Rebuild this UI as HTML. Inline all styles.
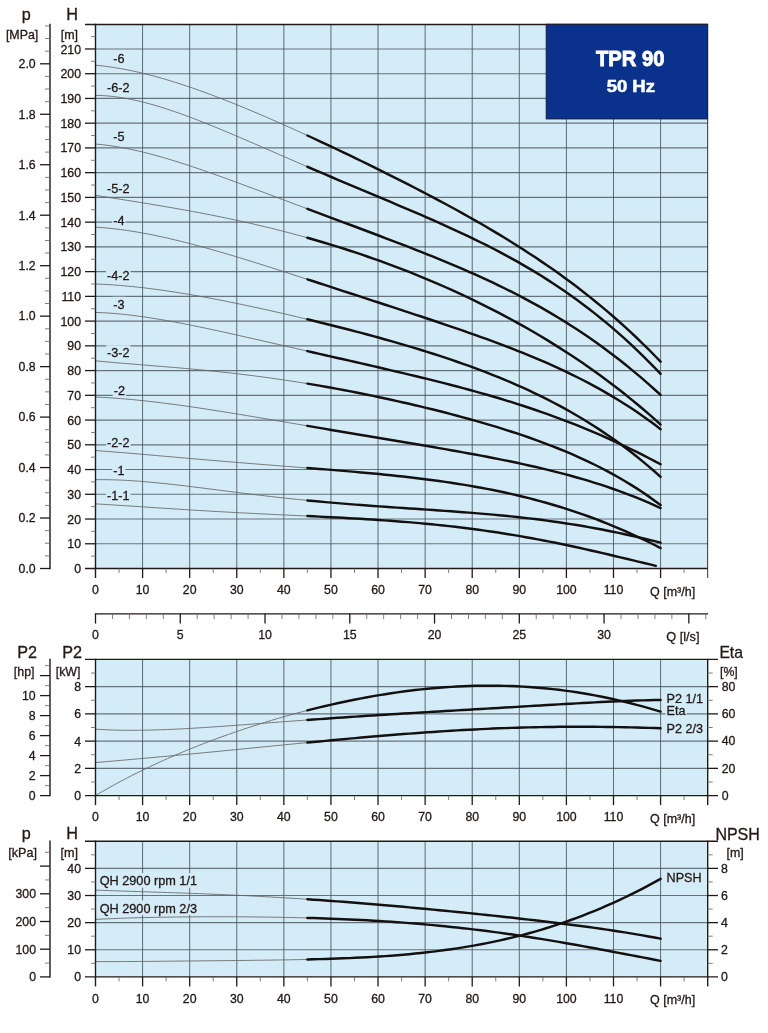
<!DOCTYPE html>
<html><head><meta charset="utf-8"><title>TPR 90 50 Hz</title>
<style>
html,body{margin:0;padding:0;background:#fff;}
body{width:768px;height:1033px;overflow:hidden;}
svg{display:block;font-family:"Liberation Sans", Arial, Helvetica, sans-serif;}
text{stroke:#231815;stroke-width:0.3px;}
text.w{stroke:#fff;}
</style></head>
<body>
<svg width="768" height="1033" viewBox="0 0 768 1033">
<rect width="768" height="1033" fill="#fff"/>
<rect x="95.5" y="24.5" width="612.17" height="544" fill="#d4ecf8"/>
<line x1="95.5" y1="543.76" x2="707.67" y2="543.76" stroke="#66737d" stroke-width="1.15"/>
<line x1="95.5" y1="519.02" x2="707.67" y2="519.02" stroke="#66737d" stroke-width="1.15"/>
<line x1="95.5" y1="494.28" x2="707.67" y2="494.28" stroke="#66737d" stroke-width="1.15"/>
<line x1="95.5" y1="469.54" x2="707.67" y2="469.54" stroke="#66737d" stroke-width="1.15"/>
<line x1="95.5" y1="444.8" x2="707.67" y2="444.8" stroke="#66737d" stroke-width="1.15"/>
<line x1="95.5" y1="420.06" x2="707.67" y2="420.06" stroke="#66737d" stroke-width="1.15"/>
<line x1="95.5" y1="395.32" x2="707.67" y2="395.32" stroke="#66737d" stroke-width="1.15"/>
<line x1="95.5" y1="370.58" x2="707.67" y2="370.58" stroke="#66737d" stroke-width="1.15"/>
<line x1="95.5" y1="345.84" x2="707.67" y2="345.84" stroke="#66737d" stroke-width="1.15"/>
<line x1="95.5" y1="321.1" x2="707.67" y2="321.1" stroke="#66737d" stroke-width="1.15"/>
<line x1="95.5" y1="296.36" x2="707.67" y2="296.36" stroke="#66737d" stroke-width="1.15"/>
<line x1="95.5" y1="271.62" x2="707.67" y2="271.62" stroke="#66737d" stroke-width="1.15"/>
<line x1="95.5" y1="246.88" x2="707.67" y2="246.88" stroke="#66737d" stroke-width="1.15"/>
<line x1="95.5" y1="222.14" x2="707.67" y2="222.14" stroke="#66737d" stroke-width="1.15"/>
<line x1="95.5" y1="197.4" x2="707.67" y2="197.4" stroke="#66737d" stroke-width="1.15"/>
<line x1="95.5" y1="172.66" x2="707.67" y2="172.66" stroke="#66737d" stroke-width="1.15"/>
<line x1="95.5" y1="147.92" x2="707.67" y2="147.92" stroke="#66737d" stroke-width="1.15"/>
<line x1="95.5" y1="123.18" x2="707.67" y2="123.18" stroke="#66737d" stroke-width="1.15"/>
<line x1="95.5" y1="98.44" x2="707.67" y2="98.44" stroke="#66737d" stroke-width="1.15"/>
<line x1="95.5" y1="73.7" x2="707.67" y2="73.7" stroke="#66737d" stroke-width="1.15"/>
<line x1="95.5" y1="48.96" x2="707.67" y2="48.96" stroke="#66737d" stroke-width="1.15"/>
<line x1="142.59" y1="24.5" x2="142.59" y2="568.5" stroke="#4a535a" stroke-width="0.85"/>
<line x1="189.68" y1="24.5" x2="189.68" y2="568.5" stroke="#4a535a" stroke-width="0.85"/>
<line x1="236.77" y1="24.5" x2="236.77" y2="568.5" stroke="#4a535a" stroke-width="0.85"/>
<line x1="283.86" y1="24.5" x2="283.86" y2="568.5" stroke="#4a535a" stroke-width="0.85"/>
<line x1="330.95" y1="24.5" x2="330.95" y2="568.5" stroke="#4a535a" stroke-width="0.85"/>
<line x1="378.04" y1="24.5" x2="378.04" y2="568.5" stroke="#4a535a" stroke-width="0.85"/>
<line x1="425.13" y1="24.5" x2="425.13" y2="568.5" stroke="#4a535a" stroke-width="0.85"/>
<line x1="472.22" y1="24.5" x2="472.22" y2="568.5" stroke="#4a535a" stroke-width="0.85"/>
<line x1="519.31" y1="24.5" x2="519.31" y2="568.5" stroke="#4a535a" stroke-width="0.85"/>
<line x1="566.4" y1="24.5" x2="566.4" y2="568.5" stroke="#4a535a" stroke-width="0.85"/>
<line x1="613.49" y1="24.5" x2="613.49" y2="568.5" stroke="#4a535a" stroke-width="0.85"/>
<line x1="660.58" y1="24.5" x2="660.58" y2="568.5" stroke="#4a535a" stroke-width="0.85"/>
<polyline points="95.5,65.2 99.09,65.55 102.68,65.95 106.27,66.4 109.87,66.89 113.46,67.42 117.05,68 120.64,68.61 124.23,69.27 127.82,69.97 131.42,70.7 135.01,71.47 138.6,72.28 142.19,73.12 145.78,74 149.37,74.9 152.97,75.84 156.56,76.81 160.15,77.81 163.74,78.84 167.33,79.9 170.92,80.98 174.52,82.1 178.11,83.23 181.7,84.39 185.29,85.58 188.88,86.78 192.47,88.01 196.07,89.26 199.66,90.54 203.25,91.83 206.84,93.14 210.43,94.47 214.02,95.82 217.61,97.18 221.21,98.57 224.8,99.97 228.39,101.38 231.98,102.81 235.57,104.25 239.16,105.71 242.76,107.18 246.35,108.67 249.94,110.16 253.53,111.67 257.12,113.19 260.71,114.73 264.31,116.27 267.9,117.82 271.49,119.39 275.08,120.96 278.67,122.54 282.26,124.13 285.86,125.73 289.45,127.34 293.04,128.96 296.63,130.58 300.22,132.22 303.81,133.86 307.4,135.5" fill="none" stroke="#646464" stroke-width="0.85"/>
<polyline points="307.4,135.5 313.39,138.26 319.38,141.04 325.36,143.84 331.35,146.66 337.34,149.49 343.32,152.35 349.31,155.21 355.29,158.1 361.28,161 367.27,163.92 373.25,166.86 379.24,169.81 385.22,172.79 391.21,175.78 397.2,178.8 403.18,181.83 409.17,184.89 415.15,187.97 421.14,191.07 427.13,194.21 433.11,197.36 439.1,200.55 445.08,203.77 451.07,207.02 457.06,210.3 463.04,213.62 469.03,216.97 475.01,220.37 481,223.81 486.99,227.3 492.97,230.83 498.96,234.41 504.94,238.04 510.93,241.73 516.92,245.48 522.9,249.29 528.89,253.16 534.87,257.1 540.86,261.11 546.85,265.19 552.83,269.35 558.82,273.59 564.8,277.91 570.79,282.32 576.78,286.83 582.76,291.42 588.75,296.12 594.73,300.92 600.72,305.83 606.71,310.84 612.69,315.97 618.68,321.23 624.66,326.6 630.65,332.1 636.64,337.74 642.62,343.51 648.61,349.43 654.59,355.49 660.58,361.7" fill="none" stroke="#141010" stroke-width="2.45" stroke-linecap="round" stroke-linejoin="round"/>
<polyline points="95.5,95.34 99.09,95.42 102.68,95.59 106.27,95.83 109.87,96.15 113.46,96.53 117.05,96.99 120.64,97.51 124.23,98.1 127.82,98.75 131.42,99.45 135.01,100.21 138.6,101.03 142.19,101.89 145.78,102.8 149.37,103.76 152.97,104.76 156.56,105.81 160.15,106.89 163.74,108.01 167.33,109.17 170.92,110.36 174.52,111.58 178.11,112.83 181.7,114.11 185.29,115.41 188.88,116.74 192.47,118.1 196.07,119.47 199.66,120.87 203.25,122.28 206.84,123.71 210.43,125.16 214.02,126.62 217.61,128.1 221.21,129.59 224.8,131.09 228.39,132.6 231.98,134.11 235.57,135.64 239.16,137.18 242.76,138.72 246.35,140.26 249.94,141.81 253.53,143.36 257.12,144.92 260.71,146.48 264.31,148.04 267.9,149.61 271.49,151.17 275.08,152.73 278.67,154.3 282.26,155.86 285.86,157.42 289.45,158.98 293.04,160.54 296.63,162.09 300.22,163.65 303.81,165.2 307.4,166.75" fill="none" stroke="#646464" stroke-width="0.85"/>
<polyline points="307.4,166.75 313.39,169.32 319.38,171.89 325.36,174.45 331.35,177 337.34,179.54 343.32,182.08 349.31,184.6 355.29,187.13 361.28,189.65 367.27,192.16 373.25,194.67 379.24,197.19 385.22,199.71 391.21,202.23 397.2,204.76 403.18,207.29 409.17,209.84 415.15,212.41 421.14,214.99 427.13,217.59 433.11,220.22 439.1,222.87 445.08,225.55 451.07,228.27 457.06,231.02 463.04,233.81 469.03,236.65 475.01,239.54 481,242.48 486.99,245.47 492.97,248.53 498.96,251.65 504.94,254.83 510.93,258.09 516.92,261.42 522.9,264.83 528.89,268.33 534.87,271.91 540.86,275.58 546.85,279.35 552.83,283.22 558.82,287.19 564.8,291.27 570.79,295.46 576.78,299.76 582.76,304.18 588.75,308.73 594.73,313.39 600.72,318.19 606.71,323.11 612.69,328.17 618.68,333.37 624.66,338.71 630.65,344.19 636.64,349.82 642.62,355.59 648.61,361.52 654.59,367.6 660.58,373.83" fill="none" stroke="#141010" stroke-width="2.45" stroke-linecap="round" stroke-linejoin="round"/>
<polyline points="95.5,144.07 99.09,144.38 102.68,144.75 106.27,145.17 109.87,145.65 113.46,146.17 117.05,146.74 120.64,147.36 124.23,148.02 127.82,148.73 131.42,149.47 135.01,150.25 138.6,151.07 142.19,151.92 145.78,152.81 149.37,153.73 152.97,154.68 156.56,155.66 160.15,156.66 163.74,157.69 167.33,158.75 170.92,159.83 174.52,160.93 178.11,162.05 181.7,163.2 185.29,164.36 188.88,165.53 192.47,166.73 196.07,167.93 199.66,169.16 203.25,170.39 206.84,171.64 210.43,172.9 214.02,174.17 217.61,175.45 221.21,176.74 224.8,178.04 228.39,179.34 231.98,180.65 235.57,181.97 239.16,183.29 242.76,184.62 246.35,185.95 249.94,187.28 253.53,188.62 257.12,189.96 260.71,191.3 264.31,192.65 267.9,194 271.49,195.34 275.08,196.69 278.67,198.04 282.26,199.39 285.86,200.74 289.45,202.09 293.04,203.44 296.63,204.79 300.22,206.14 303.81,207.49 307.4,208.84" fill="none" stroke="#646464" stroke-width="0.85"/>
<polyline points="307.4,208.84 313.39,211.08 319.38,213.33 325.36,215.57 331.35,217.81 337.34,220.05 343.32,222.29 349.31,224.52 355.29,226.76 361.28,229.01 367.27,231.25 373.25,233.5 379.24,235.76 385.22,238.03 391.21,240.3 397.2,242.59 403.18,244.89 409.17,247.21 415.15,249.54 421.14,251.9 427.13,254.28 433.11,256.68 439.1,259.11 445.08,261.58 451.07,264.07 457.06,266.6 463.04,269.17 469.03,271.78 475.01,274.44 481,277.14 486.99,279.89 492.97,282.7 498.96,285.56 504.94,288.49 510.93,291.47 516.92,294.52 522.9,297.64 528.89,300.83 534.87,304.09 540.86,307.44 546.85,310.86 552.83,314.37 558.82,317.96 564.8,321.64 570.79,325.42 576.78,329.29 582.76,333.26 588.75,337.33 594.73,341.51 600.72,345.79 606.71,350.18 612.69,354.68 618.68,359.29 624.66,364.02 630.65,368.87 636.64,373.84 642.62,378.93 648.61,384.14 654.59,389.48 660.58,394.95" fill="none" stroke="#141010" stroke-width="2.45" stroke-linecap="round" stroke-linejoin="round"/>
<polyline points="95.5,195.3 99.09,195.87 102.68,196.45 106.27,197.02 109.87,197.59 113.46,198.17 117.05,198.74 120.64,199.31 124.23,199.88 127.82,200.46 131.42,201.03 135.01,201.61 138.6,202.19 142.19,202.78 145.78,203.36 149.37,203.95 152.97,204.55 156.56,205.15 160.15,205.75 163.74,206.36 167.33,206.97 170.92,207.59 174.52,208.22 178.11,208.85 181.7,209.49 185.29,210.14 188.88,210.79 192.47,211.45 196.07,212.12 199.66,212.79 203.25,213.48 206.84,214.17 210.43,214.87 214.02,215.58 217.61,216.3 221.21,217.03 224.8,217.77 228.39,218.52 231.98,219.28 235.57,220.05 239.16,220.82 242.76,221.61 246.35,222.41 249.94,223.22 253.53,224.05 257.12,224.88 260.71,225.72 264.31,226.58 267.9,227.44 271.49,228.32 275.08,229.21 278.67,230.12 282.26,231.03 285.86,231.96 289.45,232.9 293.04,233.85 296.63,234.81 300.22,235.79 303.81,236.78 307.4,237.78" fill="none" stroke="#646464" stroke-width="0.85"/>
<polyline points="307.4,237.78 313.39,239.48 319.38,241.22 325.36,242.99 331.35,244.8 337.34,246.65 343.32,248.54 349.31,250.46 355.29,252.43 361.28,254.44 367.27,256.48 373.25,258.57 379.24,260.7 385.22,262.87 391.21,265.08 397.2,267.34 403.18,269.64 409.17,271.98 415.15,274.37 421.14,276.8 427.13,279.28 433.11,281.81 439.1,284.38 445.08,287 451.07,289.67 457.06,292.39 463.04,295.17 469.03,297.99 475.01,300.87 481,303.79 486.99,306.78 492.97,309.82 498.96,312.92 504.94,316.07 510.93,319.29 516.92,322.56 522.9,325.9 528.89,329.31 534.87,332.78 540.86,336.31 546.85,339.92 552.83,343.59 558.82,347.34 564.8,351.17 570.79,355.07 576.78,359.05 582.76,363.11 588.75,367.26 594.73,371.49 600.72,375.81 606.71,380.23 612.69,384.73 618.68,389.34 624.66,394.04 630.65,398.85 636.64,403.76 642.62,408.79 648.61,413.93 654.59,419.18 660.58,424.55" fill="none" stroke="#141010" stroke-width="2.45" stroke-linecap="round" stroke-linejoin="round"/>
<polyline points="95.5,227.15 99.09,227.38 102.68,227.65 106.27,227.96 109.87,228.31 113.46,228.69 117.05,229.11 120.64,229.56 124.23,230.05 127.82,230.57 131.42,231.12 135.01,231.7 138.6,232.3 142.19,232.94 145.78,233.6 149.37,234.29 152.97,235.01 156.56,235.74 160.15,236.51 163.74,237.29 167.33,238.1 170.92,238.93 174.52,239.77 178.11,240.64 181.7,241.53 185.29,242.43 188.88,243.35 192.47,244.29 196.07,245.24 199.66,246.2 203.25,247.19 206.84,248.18 210.43,249.19 214.02,250.21 217.61,251.24 221.21,252.28 224.8,253.33 228.39,254.4 231.98,255.47 235.57,256.55 239.16,257.64 242.76,258.73 246.35,259.84 249.94,260.95 253.53,262.07 257.12,263.19 260.71,264.32 264.31,265.45 267.9,266.59 271.49,267.73 275.08,268.88 278.67,270.03 282.26,271.18 285.86,272.34 289.45,273.5 293.04,274.66 296.63,275.82 300.22,276.98 303.81,278.15 307.4,279.32" fill="none" stroke="#646464" stroke-width="0.85"/>
<polyline points="307.4,279.32 313.39,281.27 319.38,283.22 325.36,285.17 331.35,287.13 337.34,289.08 343.32,291.04 349.31,292.99 355.29,294.95 361.28,296.9 367.27,298.86 373.25,300.81 379.24,302.77 385.22,304.72 391.21,306.68 397.2,308.64 403.18,310.61 409.17,312.58 415.15,314.55 421.14,316.53 427.13,318.52 433.11,320.52 439.1,322.52 445.08,324.55 451.07,326.58 457.06,328.63 463.04,330.7 469.03,332.79 475.01,334.9 481,337.04 486.99,339.2 492.97,341.4 498.96,343.63 504.94,345.89 510.93,348.19 516.92,350.53 522.9,352.92 528.89,355.35 534.87,357.84 540.86,360.38 546.85,362.98 552.83,365.65 558.82,368.37 564.8,371.17 570.79,374.05 576.78,377 582.76,380.03 588.75,383.15 594.73,386.36 600.72,389.67 606.71,393.08 612.69,396.6 618.68,400.23 624.66,403.97 630.65,407.83 636.64,411.82 642.62,415.95 648.61,420.21 654.59,424.61 660.58,429.16" fill="none" stroke="#141010" stroke-width="2.45" stroke-linecap="round" stroke-linejoin="round"/>
<polyline points="95.5,283.99 99.09,284.13 102.68,284.3 106.27,284.49 109.87,284.7 113.46,284.94 117.05,285.21 120.64,285.49 124.23,285.8 127.82,286.13 131.42,286.48 135.01,286.85 138.6,287.23 142.19,287.64 145.78,288.06 149.37,288.51 152.97,288.96 156.56,289.44 160.15,289.93 163.74,290.44 167.33,290.96 170.92,291.5 174.52,292.05 178.11,292.61 181.7,293.19 185.29,293.78 188.88,294.39 192.47,295 196.07,295.63 199.66,296.27 203.25,296.92 206.84,297.58 210.43,298.25 214.02,298.93 217.61,299.61 221.21,300.31 224.8,301.02 228.39,301.74 231.98,302.46 235.57,303.19 239.16,303.94 242.76,304.68 246.35,305.44 249.94,306.2 253.53,306.97 257.12,307.75 260.71,308.54 264.31,309.33 267.9,310.12 271.49,310.93 275.08,311.74 278.67,312.55 282.26,313.38 285.86,314.2 289.45,315.04 293.04,315.88 296.63,316.72 300.22,317.57 303.81,318.43 307.4,319.29" fill="none" stroke="#646464" stroke-width="0.85"/>
<polyline points="307.4,319.29 313.39,320.74 319.38,322.21 325.36,323.69 331.35,325.19 337.34,326.7 343.32,328.23 349.31,329.78 355.29,331.34 361.28,332.93 367.27,334.53 373.25,336.16 379.24,337.8 385.22,339.47 391.21,341.16 397.2,342.88 403.18,344.62 409.17,346.39 415.15,348.19 421.14,350.02 427.13,351.88 433.11,353.77 439.1,355.7 445.08,357.67 451.07,359.68 457.06,361.73 463.04,363.82 469.03,365.96 475.01,368.15 481,370.38 486.99,372.68 492.97,375.03 498.96,377.43 504.94,379.9 510.93,382.43 516.92,385.03 522.9,387.71 528.89,390.45 534.87,393.27 540.86,396.17 546.85,399.16 552.83,402.23 558.82,405.39 564.8,408.65 570.79,412 576.78,415.46 582.76,419.02 588.75,422.69 594.73,426.48 600.72,430.38 606.71,434.4 612.69,438.56 618.68,442.84 624.66,447.25 630.65,451.81 636.64,456.51 642.62,461.36 648.61,466.37 654.59,471.53 660.58,476.85" fill="none" stroke="#141010" stroke-width="2.45" stroke-linecap="round" stroke-linejoin="round"/>
<polyline points="95.5,312.42 99.09,312.55 102.68,312.72 106.27,312.92 109.87,313.16 113.46,313.43 117.05,313.74 120.64,314.07 124.23,314.44 127.82,314.83 131.42,315.25 135.01,315.7 138.6,316.17 142.19,316.66 145.78,317.18 149.37,317.72 152.97,318.28 156.56,318.86 160.15,319.45 163.74,320.07 167.33,320.7 170.92,321.34 174.52,322 178.11,322.67 181.7,323.36 185.29,324.06 188.88,324.77 192.47,325.49 196.07,326.22 199.66,326.96 203.25,327.71 206.84,328.47 210.43,329.23 214.02,330 217.61,330.78 221.21,331.56 224.8,332.35 228.39,333.14 231.98,333.94 235.57,334.74 239.16,335.55 242.76,336.35 246.35,337.17 249.94,337.98 253.53,338.79 257.12,339.61 260.71,340.43 264.31,341.25 267.9,342.07 271.49,342.89 275.08,343.71 278.67,344.53 282.26,345.35 285.86,346.18 289.45,347 293.04,347.82 296.63,348.64 300.22,349.47 303.81,350.29 307.4,351.11" fill="none" stroke="#646464" stroke-width="0.85"/>
<polyline points="307.4,351.11 313.39,352.48 319.38,353.84 325.36,355.21 331.35,356.58 337.34,357.94 343.32,359.31 349.31,360.68 355.29,362.04 361.28,363.41 367.27,364.79 373.25,366.16 379.24,367.55 385.22,368.94 391.21,370.33 397.2,371.74 403.18,373.15 409.17,374.57 415.15,376.01 421.14,377.46 427.13,378.93 433.11,380.41 439.1,381.91 445.08,383.43 451.07,384.98 457.06,386.54 463.04,388.13 469.03,389.75 475.01,391.39 481,393.07 486.99,394.77 492.97,396.51 498.96,398.29 504.94,400.1 510.93,401.95 516.92,403.83 522.9,405.76 528.89,407.73 534.87,409.75 540.86,411.81 546.85,413.92 552.83,416.07 558.82,418.28 564.8,420.53 570.79,422.84 576.78,425.2 582.76,427.62 588.75,430.09 594.73,432.61 600.72,435.2 606.71,437.84 612.69,440.54 618.68,443.3 624.66,446.11 630.65,448.99 636.64,451.93 642.62,454.92 648.61,457.98 654.59,461.09 660.58,464.27" fill="none" stroke="#141010" stroke-width="2.45" stroke-linecap="round" stroke-linejoin="round"/>
<polyline points="95.5,360.81 99.09,361.16 102.68,361.5 106.27,361.83 109.87,362.16 113.46,362.48 117.05,362.79 120.64,363.09 124.23,363.4 127.82,363.69 131.42,363.99 135.01,364.28 138.6,364.57 142.19,364.86 145.78,365.15 149.37,365.44 152.97,365.74 156.56,366.03 160.15,366.32 163.74,366.62 167.33,366.91 170.92,367.22 174.52,367.52 178.11,367.83 181.7,368.14 185.29,368.46 188.88,368.79 192.47,369.11 196.07,369.45 199.66,369.79 203.25,370.14 206.84,370.49 210.43,370.85 214.02,371.22 217.61,371.59 221.21,371.97 224.8,372.36 228.39,372.76 231.98,373.16 235.57,373.58 239.16,374 242.76,374.43 246.35,374.86 249.94,375.31 253.53,375.77 257.12,376.23 260.71,376.7 264.31,377.18 267.9,377.67 271.49,378.17 275.08,378.68 278.67,379.19 282.26,379.72 285.86,380.25 289.45,380.8 293.04,381.35 296.63,381.91 300.22,382.48 303.81,383.05 307.4,383.64" fill="none" stroke="#646464" stroke-width="0.85"/>
<polyline points="307.4,383.64 313.39,384.64 319.38,385.66 325.36,386.71 331.35,387.78 337.34,388.87 343.32,389.99 349.31,391.13 355.29,392.29 361.28,393.48 367.27,394.69 373.25,395.92 379.24,397.18 385.22,398.46 391.21,399.76 397.2,401.09 403.18,402.43 409.17,403.81 415.15,405.2 421.14,406.62 427.13,408.07 433.11,409.54 439.1,411.04 445.08,412.56 451.07,414.12 457.06,415.7 463.04,417.31 469.03,418.95 475.01,420.63 481,422.34 486.99,424.09 492.97,425.87 498.96,427.7 504.94,429.56 510.93,431.48 516.92,433.44 522.9,435.45 528.89,437.51 534.87,439.63 540.86,441.81 546.85,444.05 552.83,446.36 558.82,448.74 564.8,451.19 570.79,453.72 576.78,456.34 582.76,459.05 588.75,461.85 594.73,464.75 600.72,467.75 606.71,470.87 612.69,474.11 618.68,477.47 624.66,480.96 630.65,484.58 636.64,488.36 642.62,492.28 648.61,496.37 654.59,500.63 660.58,505.06" fill="none" stroke="#141010" stroke-width="2.45" stroke-linecap="round" stroke-linejoin="round"/>
<polyline points="95.5,397.03 99.09,397.19 102.68,397.38 106.27,397.58 109.87,397.81 113.46,398.05 117.05,398.31 120.64,398.59 124.23,398.89 127.82,399.2 131.42,399.53 135.01,399.87 138.6,400.23 142.19,400.6 145.78,400.99 149.37,401.39 152.97,401.8 156.56,402.22 160.15,402.66 163.74,403.11 167.33,403.56 170.92,404.03 174.52,404.51 178.11,405 181.7,405.49 185.29,406 188.88,406.51 192.47,407.03 196.07,407.56 199.66,408.09 203.25,408.64 206.84,409.18 210.43,409.74 214.02,410.3 217.61,410.86 221.21,411.43 224.8,412 228.39,412.58 231.98,413.16 235.57,413.75 239.16,414.34 242.76,414.93 246.35,415.52 249.94,416.12 253.53,416.72 257.12,417.32 260.71,417.92 264.31,418.53 267.9,419.14 271.49,419.74 275.08,420.35 278.67,420.96 282.26,421.57 285.86,422.18 289.45,422.8 293.04,423.41 296.63,424.02 300.22,424.63 303.81,425.24 307.4,425.86" fill="none" stroke="#646464" stroke-width="0.85"/>
<polyline points="307.4,425.86 313.39,426.88 319.38,427.89 325.36,428.91 331.35,429.93 337.34,430.94 343.32,431.95 349.31,432.96 355.29,433.97 361.28,434.97 367.27,435.98 373.25,436.98 379.24,437.99 385.22,438.99 391.21,439.99 397.2,441 403.18,442 409.17,443.01 415.15,444.02 421.14,445.04 427.13,446.06 433.11,447.08 439.1,448.12 445.08,449.16 451.07,450.21 457.06,451.27 463.04,452.34 469.03,453.43 475.01,454.53 481,455.65 486.99,456.79 492.97,457.95 498.96,459.13 504.94,460.33 510.93,461.56 516.92,462.82 522.9,464.11 528.89,465.43 534.87,466.78 540.86,468.18 546.85,469.61 552.83,471.08 558.82,472.6 564.8,474.17 570.79,475.78 576.78,477.45 582.76,479.17 588.75,480.95 594.73,482.8 600.72,484.7 606.71,486.68 612.69,488.73 618.68,490.85 624.66,493.05 630.65,495.33 636.64,497.69 642.62,500.14 648.61,502.69 654.59,505.33 660.58,508.07" fill="none" stroke="#141010" stroke-width="2.45" stroke-linecap="round" stroke-linejoin="round"/>
<polyline points="95.5,450.56 99.09,450.82 102.68,451.09 106.27,451.36 109.87,451.63 113.46,451.91 117.05,452.2 120.64,452.49 124.23,452.78 127.82,453.08 131.42,453.38 135.01,453.69 138.6,453.99 142.19,454.3 145.78,454.61 149.37,454.92 152.97,455.23 156.56,455.55 160.15,455.86 163.74,456.18 167.33,456.49 170.92,456.81 174.52,457.12 178.11,457.44 181.7,457.75 185.29,458.06 188.88,458.38 192.47,458.69 196.07,459 199.66,459.31 203.25,459.61 206.84,459.92 210.43,460.23 214.02,460.53 217.61,460.83 221.21,461.13 224.8,461.43 228.39,461.73 231.98,462.03 235.57,462.32 239.16,462.61 242.76,462.9 246.35,463.19 249.94,463.48 253.53,463.77 257.12,464.05 260.71,464.34 264.31,464.62 267.9,464.9 271.49,465.18 275.08,465.47 278.67,465.75 282.26,466.02 285.86,466.3 289.45,466.58 293.04,466.86 296.63,467.14 300.22,467.42 303.81,467.7 307.4,467.98" fill="none" stroke="#646464" stroke-width="0.85"/>
<polyline points="307.4,467.98 313.39,468.45 319.38,468.92 325.36,469.4 331.35,469.88 337.34,470.37 343.32,470.87 349.31,471.38 355.29,471.89 361.28,472.42 367.27,472.96 373.25,473.52 379.24,474.09 385.22,474.68 391.21,475.29 397.2,475.92 403.18,476.57 409.17,477.24 415.15,477.94 421.14,478.67 427.13,479.42 433.11,480.21 439.1,481.02 445.08,481.87 451.07,482.75 457.06,483.67 463.04,484.63 469.03,485.63 475.01,486.67 481,487.75 486.99,488.88 492.97,490.06 498.96,491.28 504.94,492.55 510.93,493.88 516.92,495.26 522.9,496.69 528.89,498.18 534.87,499.73 540.86,501.33 546.85,503 552.83,504.73 558.82,506.53 564.8,508.39 570.79,510.32 576.78,512.31 582.76,514.38 588.75,516.51 594.73,518.72 600.72,521 606.71,523.36 612.69,525.79 618.68,528.3 624.66,530.88 630.65,533.55 636.64,536.29 642.62,539.12 648.61,542.02 654.59,545.01 660.58,548.08" fill="none" stroke="#141010" stroke-width="2.45" stroke-linecap="round" stroke-linejoin="round"/>
<polyline points="95.5,479.71 99.09,479.67 102.68,479.66 106.27,479.68 109.87,479.74 113.46,479.83 117.05,479.94 120.64,480.09 124.23,480.26 127.82,480.45 131.42,480.67 135.01,480.91 138.6,481.18 142.19,481.46 145.78,481.76 149.37,482.07 152.97,482.4 156.56,482.75 160.15,483.11 163.74,483.49 167.33,483.87 170.92,484.27 174.52,484.67 178.11,485.08 181.7,485.51 185.29,485.93 188.88,486.37 192.47,486.81 196.07,487.25 199.66,487.7 203.25,488.15 206.84,488.61 210.43,489.06 214.02,489.52 217.61,489.98 221.21,490.43 224.8,490.89 228.39,491.35 231.98,491.8 235.57,492.25 239.16,492.7 242.76,493.15 246.35,493.6 249.94,494.04 253.53,494.47 257.12,494.91 260.71,495.33 264.31,495.76 267.9,496.18 271.49,496.59 275.08,497 278.67,497.4 282.26,497.8 285.86,498.19 289.45,498.58 293.04,498.96 296.63,499.33 300.22,499.7 303.81,500.06 307.4,500.42" fill="none" stroke="#646464" stroke-width="0.85"/>
<polyline points="307.4,500.42 313.39,501 319.38,501.56 325.36,502.11 331.35,502.64 337.34,503.15 343.32,503.65 349.31,504.13 355.29,504.61 361.28,505.06 367.27,505.51 373.25,505.95 379.24,506.38 385.22,506.8 391.21,507.21 397.2,507.62 403.18,508.02 409.17,508.42 415.15,508.82 421.14,509.22 427.13,509.62 433.11,510.03 439.1,510.44 445.08,510.85 451.07,511.28 457.06,511.72 463.04,512.17 469.03,512.63 475.01,513.11 481,513.6 486.99,514.12 492.97,514.65 498.96,515.21 504.94,515.79 510.93,516.39 516.92,517.02 522.9,517.68 528.89,518.37 534.87,519.09 540.86,519.84 546.85,520.63 552.83,521.45 558.82,522.3 564.8,523.19 570.79,524.11 576.78,525.08 582.76,526.08 588.75,527.12 594.73,528.2 600.72,529.32 606.71,530.48 612.69,531.68 618.68,532.92 624.66,534.2 630.65,535.51 636.64,536.87 642.62,538.26 648.61,539.69 654.59,541.15 660.58,542.65" fill="none" stroke="#141010" stroke-width="2.45" stroke-linecap="round" stroke-linejoin="round"/>
<polyline points="95.5,503.88 99.09,504.08 102.68,504.29 106.27,504.51 109.87,504.73 113.46,504.95 117.05,505.18 120.64,505.41 124.23,505.64 127.82,505.87 131.42,506.11 135.01,506.34 138.6,506.58 142.19,506.82 145.78,507.06 149.37,507.3 152.97,507.54 156.56,507.77 160.15,508.01 163.74,508.25 167.33,508.48 170.92,508.71 174.52,508.95 178.11,509.17 181.7,509.4 185.29,509.63 188.88,509.85 192.47,510.07 196.07,510.29 199.66,510.51 203.25,510.72 206.84,510.93 210.43,511.14 214.02,511.35 217.61,511.55 221.21,511.75 224.8,511.95 228.39,512.15 231.98,512.34 235.57,512.54 239.16,512.72 242.76,512.91 246.35,513.1 249.94,513.28 253.53,513.46 257.12,513.64 260.71,513.82 264.31,513.99 267.9,514.17 271.49,514.34 275.08,514.52 278.67,514.69 282.26,514.86 285.86,515.03 289.45,515.2 293.04,515.37 296.63,515.54 300.22,515.71 303.81,515.88 307.4,516.05" fill="none" stroke="#646464" stroke-width="0.85"/>
<polyline points="307.4,516.05 313.31,516.34 319.22,516.63 325.12,516.92 331.03,517.22 336.94,517.52 342.84,517.84 348.75,518.16 354.65,518.49 360.56,518.84 366.47,519.19 372.37,519.56 378.28,519.95 384.19,520.35 390.09,520.77 396,521.2 401.9,521.66 407.81,522.14 413.72,522.63 419.62,523.15 425.53,523.7 431.44,524.26 437.34,524.86 443.25,525.48 449.15,526.12 455.06,526.79 460.97,527.5 466.87,528.23 472.78,528.99 478.68,529.77 484.59,530.59 490.5,531.44 496.4,532.33 502.31,533.24 508.22,534.18 514.12,535.15 520.03,536.16 525.93,537.2 531.84,538.26 537.75,539.36 543.65,540.48 549.56,541.64 555.47,542.82 561.37,544.03 567.28,545.27 573.18,546.53 579.09,547.81 585,549.12 590.9,550.45 596.81,551.8 602.72,553.16 608.62,554.54 614.53,555.94 620.43,557.34 626.34,558.75 632.25,560.17 638.15,561.59 644.06,563.01 649.96,564.43 655.87,565.84" fill="none" stroke="#141010" stroke-width="2.45" stroke-linecap="round" stroke-linejoin="round"/>
<rect x="112.2" y="51.1" width="13.25" height="14.6" fill="#d4ecf8"/>
<text x="113.2" y="63.2" font-size="12.65" text-anchor="start" fill="#231815">-6</text>
<rect x="106.1" y="80.3" width="24.49" height="14.6" fill="#d4ecf8"/>
<text x="107.1" y="92.4" font-size="12.65" text-anchor="start" fill="#231815">-6-2</text>
<rect x="112.2" y="128.7" width="13.25" height="14.6" fill="#d4ecf8"/>
<text x="113.2" y="140.8" font-size="12.65" text-anchor="start" fill="#231815">-5</text>
<rect x="106.1" y="181" width="24.49" height="14.6" fill="#d4ecf8"/>
<text x="107.1" y="193.1" font-size="12.65" text-anchor="start" fill="#231815">-5-2</text>
<rect x="112.2" y="213" width="13.25" height="14.6" fill="#d4ecf8"/>
<text x="113.2" y="225.1" font-size="12.65" text-anchor="start" fill="#231815">-4</text>
<rect x="106.1" y="267.7" width="24.49" height="14.6" fill="#d4ecf8"/>
<text x="107.1" y="279.8" font-size="12.65" text-anchor="start" fill="#231815">-4-2</text>
<rect x="112.2" y="296.8" width="13.25" height="14.6" fill="#d4ecf8"/>
<text x="113.2" y="308.9" font-size="12.65" text-anchor="start" fill="#231815">-3</text>
<rect x="106.1" y="345.2" width="24.49" height="14.6" fill="#d4ecf8"/>
<text x="107.1" y="357.3" font-size="12.65" text-anchor="start" fill="#231815">-3-2</text>
<rect x="112.7" y="382.4" width="13.25" height="14.6" fill="#d4ecf8"/>
<text x="113.7" y="394.5" font-size="12.65" text-anchor="start" fill="#231815">-2</text>
<rect x="106.1" y="434.6" width="24.49" height="14.6" fill="#d4ecf8"/>
<text x="107.1" y="446.7" font-size="12.65" text-anchor="start" fill="#231815">-2-2</text>
<rect x="112.2" y="463" width="13.25" height="14.6" fill="#d4ecf8"/>
<text x="113.2" y="475.1" font-size="12.65" text-anchor="start" fill="#231815">-1</text>
<rect x="106.1" y="487.7" width="24.49" height="14.6" fill="#d4ecf8"/>
<text x="107.1" y="499.8" font-size="12.65" text-anchor="start" fill="#231815">-1-1</text>
<line x1="707.67" y1="24.5" x2="707.67" y2="578" stroke="#231815" stroke-width="0.9"/>
<line x1="85" y1="24.5" x2="707.67" y2="24.5" stroke="#231815" stroke-width="1.3"/>
<line x1="95.5" y1="23.85" x2="95.5" y2="578" stroke="#231815" stroke-width="1.4"/>
<line x1="85" y1="568.5" x2="707.67" y2="568.5" stroke="#231815" stroke-width="1.3"/>
<line x1="85" y1="543.76" x2="95.5" y2="543.76" stroke="#231815" stroke-width="1.3"/>
<line x1="85" y1="519.02" x2="95.5" y2="519.02" stroke="#231815" stroke-width="1.3"/>
<line x1="85" y1="494.28" x2="95.5" y2="494.28" stroke="#231815" stroke-width="1.3"/>
<line x1="85" y1="469.54" x2="95.5" y2="469.54" stroke="#231815" stroke-width="1.3"/>
<line x1="85" y1="444.8" x2="95.5" y2="444.8" stroke="#231815" stroke-width="1.3"/>
<line x1="85" y1="420.06" x2="95.5" y2="420.06" stroke="#231815" stroke-width="1.3"/>
<line x1="85" y1="395.32" x2="95.5" y2="395.32" stroke="#231815" stroke-width="1.3"/>
<line x1="85" y1="370.58" x2="95.5" y2="370.58" stroke="#231815" stroke-width="1.3"/>
<line x1="85" y1="345.84" x2="95.5" y2="345.84" stroke="#231815" stroke-width="1.3"/>
<line x1="85" y1="321.1" x2="95.5" y2="321.1" stroke="#231815" stroke-width="1.3"/>
<line x1="85" y1="296.36" x2="95.5" y2="296.36" stroke="#231815" stroke-width="1.3"/>
<line x1="85" y1="271.62" x2="95.5" y2="271.62" stroke="#231815" stroke-width="1.3"/>
<line x1="85" y1="246.88" x2="95.5" y2="246.88" stroke="#231815" stroke-width="1.3"/>
<line x1="85" y1="222.14" x2="95.5" y2="222.14" stroke="#231815" stroke-width="1.3"/>
<line x1="85" y1="197.4" x2="95.5" y2="197.4" stroke="#231815" stroke-width="1.3"/>
<line x1="85" y1="172.66" x2="95.5" y2="172.66" stroke="#231815" stroke-width="1.3"/>
<line x1="85" y1="147.92" x2="95.5" y2="147.92" stroke="#231815" stroke-width="1.3"/>
<line x1="85" y1="123.18" x2="95.5" y2="123.18" stroke="#231815" stroke-width="1.3"/>
<line x1="85" y1="98.44" x2="95.5" y2="98.44" stroke="#231815" stroke-width="1.3"/>
<line x1="85" y1="73.7" x2="95.5" y2="73.7" stroke="#231815" stroke-width="1.3"/>
<line x1="85" y1="48.96" x2="95.5" y2="48.96" stroke="#231815" stroke-width="1.3"/>
<line x1="91" y1="556.13" x2="95.5" y2="556.13" stroke="#6f6562" stroke-width="0.85"/>
<line x1="91" y1="531.39" x2="95.5" y2="531.39" stroke="#6f6562" stroke-width="0.85"/>
<line x1="91" y1="506.65" x2="95.5" y2="506.65" stroke="#6f6562" stroke-width="0.85"/>
<line x1="91" y1="481.91" x2="95.5" y2="481.91" stroke="#6f6562" stroke-width="0.85"/>
<line x1="91" y1="457.17" x2="95.5" y2="457.17" stroke="#6f6562" stroke-width="0.85"/>
<line x1="91" y1="432.43" x2="95.5" y2="432.43" stroke="#6f6562" stroke-width="0.85"/>
<line x1="91" y1="407.69" x2="95.5" y2="407.69" stroke="#6f6562" stroke-width="0.85"/>
<line x1="91" y1="382.95" x2="95.5" y2="382.95" stroke="#6f6562" stroke-width="0.85"/>
<line x1="91" y1="358.21" x2="95.5" y2="358.21" stroke="#6f6562" stroke-width="0.85"/>
<line x1="91" y1="333.47" x2="95.5" y2="333.47" stroke="#6f6562" stroke-width="0.85"/>
<line x1="91" y1="308.73" x2="95.5" y2="308.73" stroke="#6f6562" stroke-width="0.85"/>
<line x1="91" y1="283.99" x2="95.5" y2="283.99" stroke="#6f6562" stroke-width="0.85"/>
<line x1="91" y1="259.25" x2="95.5" y2="259.25" stroke="#6f6562" stroke-width="0.85"/>
<line x1="91" y1="234.51" x2="95.5" y2="234.51" stroke="#6f6562" stroke-width="0.85"/>
<line x1="91" y1="209.77" x2="95.5" y2="209.77" stroke="#6f6562" stroke-width="0.85"/>
<line x1="91" y1="185.03" x2="95.5" y2="185.03" stroke="#6f6562" stroke-width="0.85"/>
<line x1="91" y1="160.29" x2="95.5" y2="160.29" stroke="#6f6562" stroke-width="0.85"/>
<line x1="91" y1="135.55" x2="95.5" y2="135.55" stroke="#6f6562" stroke-width="0.85"/>
<line x1="91" y1="110.81" x2="95.5" y2="110.81" stroke="#6f6562" stroke-width="0.85"/>
<line x1="91" y1="86.07" x2="95.5" y2="86.07" stroke="#6f6562" stroke-width="0.85"/>
<line x1="91" y1="61.33" x2="95.5" y2="61.33" stroke="#6f6562" stroke-width="0.85"/>
<line x1="91" y1="36.59" x2="95.5" y2="36.59" stroke="#6f6562" stroke-width="0.85"/>
<line x1="142.59" y1="568.5" x2="142.59" y2="578" stroke="#231815" stroke-width="1.3"/>
<line x1="189.68" y1="568.5" x2="189.68" y2="578" stroke="#231815" stroke-width="1.3"/>
<line x1="236.77" y1="568.5" x2="236.77" y2="578" stroke="#231815" stroke-width="1.3"/>
<line x1="283.86" y1="568.5" x2="283.86" y2="578" stroke="#231815" stroke-width="1.3"/>
<line x1="330.95" y1="568.5" x2="330.95" y2="578" stroke="#231815" stroke-width="1.3"/>
<line x1="378.04" y1="568.5" x2="378.04" y2="578" stroke="#231815" stroke-width="1.3"/>
<line x1="425.13" y1="568.5" x2="425.13" y2="578" stroke="#231815" stroke-width="1.3"/>
<line x1="472.22" y1="568.5" x2="472.22" y2="578" stroke="#231815" stroke-width="1.3"/>
<line x1="519.31" y1="568.5" x2="519.31" y2="578" stroke="#231815" stroke-width="1.3"/>
<line x1="566.4" y1="568.5" x2="566.4" y2="578" stroke="#231815" stroke-width="1.3"/>
<line x1="613.49" y1="568.5" x2="613.49" y2="578" stroke="#231815" stroke-width="1.3"/>
<line x1="660.58" y1="568.5" x2="660.58" y2="578" stroke="#231815" stroke-width="1.3"/>
<line x1="119.05" y1="568.5" x2="119.05" y2="573" stroke="#6f6562" stroke-width="0.85"/>
<line x1="166.13" y1="568.5" x2="166.13" y2="573" stroke="#6f6562" stroke-width="0.85"/>
<line x1="213.22" y1="568.5" x2="213.22" y2="573" stroke="#6f6562" stroke-width="0.85"/>
<line x1="260.31" y1="568.5" x2="260.31" y2="573" stroke="#6f6562" stroke-width="0.85"/>
<line x1="307.4" y1="568.5" x2="307.4" y2="573" stroke="#6f6562" stroke-width="0.85"/>
<line x1="354.5" y1="568.5" x2="354.5" y2="573" stroke="#6f6562" stroke-width="0.85"/>
<line x1="401.58" y1="568.5" x2="401.58" y2="573" stroke="#6f6562" stroke-width="0.85"/>
<line x1="448.67" y1="568.5" x2="448.67" y2="573" stroke="#6f6562" stroke-width="0.85"/>
<line x1="495.76" y1="568.5" x2="495.76" y2="573" stroke="#6f6562" stroke-width="0.85"/>
<line x1="542.86" y1="568.5" x2="542.86" y2="573" stroke="#6f6562" stroke-width="0.85"/>
<line x1="589.94" y1="568.5" x2="589.94" y2="573" stroke="#6f6562" stroke-width="0.85"/>
<line x1="637.03" y1="568.5" x2="637.03" y2="573" stroke="#6f6562" stroke-width="0.85"/>
<line x1="684.12" y1="568.5" x2="684.12" y2="573" stroke="#6f6562" stroke-width="0.85"/>
<text x="81" y="573.05" font-size="12.3" text-anchor="end" fill="#231815">0</text>
<text x="81" y="548.31" font-size="12.3" text-anchor="end" fill="#231815">10</text>
<text x="81" y="523.57" font-size="12.3" text-anchor="end" fill="#231815">20</text>
<text x="81" y="498.83" font-size="12.3" text-anchor="end" fill="#231815">30</text>
<text x="81" y="474.09" font-size="12.3" text-anchor="end" fill="#231815">40</text>
<text x="81" y="449.35" font-size="12.3" text-anchor="end" fill="#231815">50</text>
<text x="81" y="424.61" font-size="12.3" text-anchor="end" fill="#231815">60</text>
<text x="81" y="399.87" font-size="12.3" text-anchor="end" fill="#231815">70</text>
<text x="81" y="375.13" font-size="12.3" text-anchor="end" fill="#231815">80</text>
<text x="81" y="350.39" font-size="12.3" text-anchor="end" fill="#231815">90</text>
<text x="81" y="325.65" font-size="12.3" text-anchor="end" fill="#231815">100</text>
<text x="81" y="300.91" font-size="12.3" text-anchor="end" fill="#231815">110</text>
<text x="81" y="276.17" font-size="12.3" text-anchor="end" fill="#231815">120</text>
<text x="81" y="251.43" font-size="12.3" text-anchor="end" fill="#231815">130</text>
<text x="81" y="226.69" font-size="12.3" text-anchor="end" fill="#231815">140</text>
<text x="81" y="201.95" font-size="12.3" text-anchor="end" fill="#231815">150</text>
<text x="81" y="177.21" font-size="12.3" text-anchor="end" fill="#231815">160</text>
<text x="81" y="152.47" font-size="12.3" text-anchor="end" fill="#231815">170</text>
<text x="81" y="127.73" font-size="12.3" text-anchor="end" fill="#231815">180</text>
<text x="81" y="102.99" font-size="12.3" text-anchor="end" fill="#231815">190</text>
<text x="81" y="78.25" font-size="12.3" text-anchor="end" fill="#231815">200</text>
<text x="81" y="53.51" font-size="12.3" text-anchor="end" fill="#231815">210</text>
<text x="95.5" y="594.3" font-size="12.3" text-anchor="middle" fill="#231815">0</text>
<text x="142.59" y="594.3" font-size="12.3" text-anchor="middle" fill="#231815">10</text>
<text x="189.68" y="594.3" font-size="12.3" text-anchor="middle" fill="#231815">20</text>
<text x="236.77" y="594.3" font-size="12.3" text-anchor="middle" fill="#231815">30</text>
<text x="283.86" y="594.3" font-size="12.3" text-anchor="middle" fill="#231815">40</text>
<text x="330.95" y="594.3" font-size="12.3" text-anchor="middle" fill="#231815">50</text>
<text x="378.04" y="594.3" font-size="12.3" text-anchor="middle" fill="#231815">60</text>
<text x="425.13" y="594.3" font-size="12.3" text-anchor="middle" fill="#231815">70</text>
<text x="472.22" y="594.3" font-size="12.3" text-anchor="middle" fill="#231815">80</text>
<text x="519.31" y="594.3" font-size="12.3" text-anchor="middle" fill="#231815">90</text>
<text x="566.4" y="594.3" font-size="12.3" text-anchor="middle" fill="#231815">100</text>
<text x="613.49" y="594.3" font-size="12.3" text-anchor="middle" fill="#231815">110</text>
<text x="650" y="596" font-size="12.5" text-anchor="start" fill="#231815">Q [m³/h]</text>
<text x="66.2" y="20.3" font-size="16.2" text-anchor="start" fill="#231815">H</text>
<text x="60.8" y="38.8" font-size="12.4" text-anchor="start" fill="#231815">[m]</text>
<line x1="50" y1="23.85" x2="50" y2="569.15" stroke="#231815" stroke-width="1.4"/>
<line x1="40" y1="568.5" x2="50" y2="568.5" stroke="#231815" stroke-width="1.3"/>
<text x="35.7" y="572.8" font-size="12.3" text-anchor="end" fill="#231815">0.0</text>
<line x1="40" y1="518.03" x2="50" y2="518.03" stroke="#231815" stroke-width="1.3"/>
<text x="35.7" y="522.33" font-size="12.3" text-anchor="end" fill="#231815">0.2</text>
<line x1="40" y1="467.56" x2="50" y2="467.56" stroke="#231815" stroke-width="1.3"/>
<text x="35.7" y="471.86" font-size="12.3" text-anchor="end" fill="#231815">0.4</text>
<line x1="40" y1="417.09" x2="50" y2="417.09" stroke="#231815" stroke-width="1.3"/>
<text x="35.7" y="421.39" font-size="12.3" text-anchor="end" fill="#231815">0.6</text>
<line x1="40" y1="366.62" x2="50" y2="366.62" stroke="#231815" stroke-width="1.3"/>
<text x="35.7" y="370.92" font-size="12.3" text-anchor="end" fill="#231815">0.8</text>
<line x1="40" y1="316.15" x2="50" y2="316.15" stroke="#231815" stroke-width="1.3"/>
<text x="35.7" y="320.45" font-size="12.3" text-anchor="end" fill="#231815">1.0</text>
<line x1="40" y1="265.68" x2="50" y2="265.68" stroke="#231815" stroke-width="1.3"/>
<text x="35.7" y="269.98" font-size="12.3" text-anchor="end" fill="#231815">1.2</text>
<line x1="40" y1="215.21" x2="50" y2="215.21" stroke="#231815" stroke-width="1.3"/>
<text x="35.7" y="219.51" font-size="12.3" text-anchor="end" fill="#231815">1.4</text>
<line x1="40" y1="164.74" x2="50" y2="164.74" stroke="#231815" stroke-width="1.3"/>
<text x="35.7" y="169.04" font-size="12.3" text-anchor="end" fill="#231815">1.6</text>
<line x1="40" y1="114.27" x2="50" y2="114.27" stroke="#231815" stroke-width="1.3"/>
<text x="35.7" y="118.57" font-size="12.3" text-anchor="end" fill="#231815">1.8</text>
<line x1="40" y1="63.8" x2="50" y2="63.8" stroke="#231815" stroke-width="1.3"/>
<text x="35.7" y="68.1" font-size="12.3" text-anchor="end" fill="#231815">2.0</text>
<line x1="45" y1="555.88" x2="50" y2="555.88" stroke="#6f6562" stroke-width="0.85"/>
<line x1="45" y1="543.26" x2="50" y2="543.26" stroke="#6f6562" stroke-width="0.85"/>
<line x1="45" y1="530.65" x2="50" y2="530.65" stroke="#6f6562" stroke-width="0.85"/>
<line x1="45" y1="505.41" x2="50" y2="505.41" stroke="#6f6562" stroke-width="0.85"/>
<line x1="45" y1="492.79" x2="50" y2="492.79" stroke="#6f6562" stroke-width="0.85"/>
<line x1="45" y1="480.18" x2="50" y2="480.18" stroke="#6f6562" stroke-width="0.85"/>
<line x1="45" y1="454.94" x2="50" y2="454.94" stroke="#6f6562" stroke-width="0.85"/>
<line x1="45" y1="442.32" x2="50" y2="442.32" stroke="#6f6562" stroke-width="0.85"/>
<line x1="45" y1="429.71" x2="50" y2="429.71" stroke="#6f6562" stroke-width="0.85"/>
<line x1="45" y1="404.47" x2="50" y2="404.47" stroke="#6f6562" stroke-width="0.85"/>
<line x1="45" y1="391.86" x2="50" y2="391.86" stroke="#6f6562" stroke-width="0.85"/>
<line x1="45" y1="379.24" x2="50" y2="379.24" stroke="#6f6562" stroke-width="0.85"/>
<line x1="45" y1="354" x2="50" y2="354" stroke="#6f6562" stroke-width="0.85"/>
<line x1="45" y1="341.38" x2="50" y2="341.38" stroke="#6f6562" stroke-width="0.85"/>
<line x1="45" y1="328.77" x2="50" y2="328.77" stroke="#6f6562" stroke-width="0.85"/>
<line x1="45" y1="303.53" x2="50" y2="303.53" stroke="#6f6562" stroke-width="0.85"/>
<line x1="45" y1="290.91" x2="50" y2="290.91" stroke="#6f6562" stroke-width="0.85"/>
<line x1="45" y1="278.3" x2="50" y2="278.3" stroke="#6f6562" stroke-width="0.85"/>
<line x1="45" y1="253.06" x2="50" y2="253.06" stroke="#6f6562" stroke-width="0.85"/>
<line x1="45" y1="240.44" x2="50" y2="240.44" stroke="#6f6562" stroke-width="0.85"/>
<line x1="45" y1="227.83" x2="50" y2="227.83" stroke="#6f6562" stroke-width="0.85"/>
<line x1="45" y1="202.59" x2="50" y2="202.59" stroke="#6f6562" stroke-width="0.85"/>
<line x1="45" y1="189.98" x2="50" y2="189.98" stroke="#6f6562" stroke-width="0.85"/>
<line x1="45" y1="177.36" x2="50" y2="177.36" stroke="#6f6562" stroke-width="0.85"/>
<line x1="45" y1="152.12" x2="50" y2="152.12" stroke="#6f6562" stroke-width="0.85"/>
<line x1="45" y1="139.5" x2="50" y2="139.5" stroke="#6f6562" stroke-width="0.85"/>
<line x1="45" y1="126.89" x2="50" y2="126.89" stroke="#6f6562" stroke-width="0.85"/>
<line x1="45" y1="101.65" x2="50" y2="101.65" stroke="#6f6562" stroke-width="0.85"/>
<line x1="45" y1="89.03" x2="50" y2="89.03" stroke="#6f6562" stroke-width="0.85"/>
<line x1="45" y1="76.42" x2="50" y2="76.42" stroke="#6f6562" stroke-width="0.85"/>
<line x1="45" y1="51.18" x2="50" y2="51.18" stroke="#6f6562" stroke-width="0.85"/>
<line x1="45" y1="38.56" x2="50" y2="38.56" stroke="#6f6562" stroke-width="0.85"/>
<line x1="45" y1="25.95" x2="50" y2="25.95" stroke="#6f6562" stroke-width="0.85"/>
<text x="26.3" y="20.3" font-size="16.2" text-anchor="middle" fill="#231815">p</text>
<text x="5.9" y="38.8" font-size="12.4" text-anchor="start" fill="#231815">[MPa]</text>
<rect x="546.1" y="24.2" width="161.57" height="94.8" fill="#0a328c" stroke="#231815" stroke-width="0.8"/>
<text x="630.2" y="65.7" font-size="22.6" font-weight="bold" fill="#fff" class="w" style="stroke-width:0.9px" text-anchor="middle" textLength="68.5" lengthAdjust="spacingAndGlyphs">TPR 90</text>
<text x="630.8" y="92.3" font-size="16" font-weight="bold" fill="#fff" class="w" style="stroke-width:0.5px" text-anchor="middle" textLength="48.3" lengthAdjust="spacingAndGlyphs">50 Hz</text>
<line x1="94.85" y1="613.8" x2="708.12" y2="613.8" stroke="#231815" stroke-width="1.3"/>
<line x1="95.5" y1="613.8" x2="95.5" y2="623.6" stroke="#231815" stroke-width="1.3"/>
<line x1="112.45" y1="613.8" x2="112.45" y2="619.1" stroke="#6f6562" stroke-width="0.85"/>
<line x1="129.4" y1="613.8" x2="129.4" y2="619.1" stroke="#6f6562" stroke-width="0.85"/>
<line x1="146.36" y1="613.8" x2="146.36" y2="619.1" stroke="#6f6562" stroke-width="0.85"/>
<line x1="163.31" y1="613.8" x2="163.31" y2="619.1" stroke="#6f6562" stroke-width="0.85"/>
<line x1="180.26" y1="613.8" x2="180.26" y2="623.6" stroke="#231815" stroke-width="1.3"/>
<line x1="197.21" y1="613.8" x2="197.21" y2="619.1" stroke="#6f6562" stroke-width="0.85"/>
<line x1="214.16" y1="613.8" x2="214.16" y2="619.1" stroke="#6f6562" stroke-width="0.85"/>
<line x1="231.12" y1="613.8" x2="231.12" y2="619.1" stroke="#6f6562" stroke-width="0.85"/>
<line x1="248.07" y1="613.8" x2="248.07" y2="619.1" stroke="#6f6562" stroke-width="0.85"/>
<line x1="265.02" y1="613.8" x2="265.02" y2="623.6" stroke="#231815" stroke-width="1.3"/>
<line x1="281.97" y1="613.8" x2="281.97" y2="619.1" stroke="#6f6562" stroke-width="0.85"/>
<line x1="298.92" y1="613.8" x2="298.92" y2="619.1" stroke="#6f6562" stroke-width="0.85"/>
<line x1="315.88" y1="613.8" x2="315.88" y2="619.1" stroke="#6f6562" stroke-width="0.85"/>
<line x1="332.83" y1="613.8" x2="332.83" y2="619.1" stroke="#6f6562" stroke-width="0.85"/>
<line x1="349.78" y1="613.8" x2="349.78" y2="623.6" stroke="#231815" stroke-width="1.3"/>
<line x1="366.73" y1="613.8" x2="366.73" y2="619.1" stroke="#6f6562" stroke-width="0.85"/>
<line x1="383.68" y1="613.8" x2="383.68" y2="619.1" stroke="#6f6562" stroke-width="0.85"/>
<line x1="400.64" y1="613.8" x2="400.64" y2="619.1" stroke="#6f6562" stroke-width="0.85"/>
<line x1="417.59" y1="613.8" x2="417.59" y2="619.1" stroke="#6f6562" stroke-width="0.85"/>
<line x1="434.54" y1="613.8" x2="434.54" y2="623.6" stroke="#231815" stroke-width="1.3"/>
<line x1="451.49" y1="613.8" x2="451.49" y2="619.1" stroke="#6f6562" stroke-width="0.85"/>
<line x1="468.44" y1="613.8" x2="468.44" y2="619.1" stroke="#6f6562" stroke-width="0.85"/>
<line x1="485.4" y1="613.8" x2="485.4" y2="619.1" stroke="#6f6562" stroke-width="0.85"/>
<line x1="502.35" y1="613.8" x2="502.35" y2="619.1" stroke="#6f6562" stroke-width="0.85"/>
<line x1="519.3" y1="613.8" x2="519.3" y2="623.6" stroke="#231815" stroke-width="1.3"/>
<line x1="536.25" y1="613.8" x2="536.25" y2="619.1" stroke="#6f6562" stroke-width="0.85"/>
<line x1="553.2" y1="613.8" x2="553.2" y2="619.1" stroke="#6f6562" stroke-width="0.85"/>
<line x1="570.16" y1="613.8" x2="570.16" y2="619.1" stroke="#6f6562" stroke-width="0.85"/>
<line x1="587.11" y1="613.8" x2="587.11" y2="619.1" stroke="#6f6562" stroke-width="0.85"/>
<line x1="604.06" y1="613.8" x2="604.06" y2="623.6" stroke="#231815" stroke-width="1.3"/>
<line x1="621.01" y1="613.8" x2="621.01" y2="619.1" stroke="#6f6562" stroke-width="0.85"/>
<line x1="637.96" y1="613.8" x2="637.96" y2="619.1" stroke="#6f6562" stroke-width="0.85"/>
<line x1="654.92" y1="613.8" x2="654.92" y2="619.1" stroke="#6f6562" stroke-width="0.85"/>
<line x1="671.87" y1="613.8" x2="671.87" y2="619.1" stroke="#6f6562" stroke-width="0.85"/>
<line x1="688.82" y1="613.8" x2="688.82" y2="623.6" stroke="#231815" stroke-width="1.3"/>
<line x1="705.77" y1="613.8" x2="705.77" y2="619.1" stroke="#6f6562" stroke-width="0.85"/>
<text x="95.5" y="639.3" font-size="12.3" text-anchor="middle" fill="#231815">0</text>
<text x="180.26" y="639.3" font-size="12.3" text-anchor="middle" fill="#231815">5</text>
<text x="265.02" y="639.3" font-size="12.3" text-anchor="middle" fill="#231815">10</text>
<text x="349.78" y="639.3" font-size="12.3" text-anchor="middle" fill="#231815">15</text>
<text x="434.54" y="639.3" font-size="12.3" text-anchor="middle" fill="#231815">20</text>
<text x="519.3" y="639.3" font-size="12.3" text-anchor="middle" fill="#231815">25</text>
<text x="604.06" y="639.3" font-size="12.3" text-anchor="middle" fill="#231815">30</text>
<text x="666.3" y="641.2" font-size="12.7" text-anchor="start" fill="#231815">Q [l/s]</text>
<rect x="95.5" y="659.4" width="612.17" height="136.2" fill="#d4ecf8"/>
<line x1="95.5" y1="768.36" x2="707.67" y2="768.36" stroke="#66737d" stroke-width="1.15"/>
<line x1="95.5" y1="741.12" x2="707.67" y2="741.12" stroke="#66737d" stroke-width="1.15"/>
<line x1="95.5" y1="713.88" x2="707.67" y2="713.88" stroke="#66737d" stroke-width="1.15"/>
<line x1="95.5" y1="686.64" x2="707.67" y2="686.64" stroke="#66737d" stroke-width="1.15"/>
<line x1="142.59" y1="659.4" x2="142.59" y2="795.6" stroke="#4a535a" stroke-width="0.85"/>
<line x1="189.68" y1="659.4" x2="189.68" y2="795.6" stroke="#4a535a" stroke-width="0.85"/>
<line x1="236.77" y1="659.4" x2="236.77" y2="795.6" stroke="#4a535a" stroke-width="0.85"/>
<line x1="283.86" y1="659.4" x2="283.86" y2="795.6" stroke="#4a535a" stroke-width="0.85"/>
<line x1="330.95" y1="659.4" x2="330.95" y2="795.6" stroke="#4a535a" stroke-width="0.85"/>
<line x1="378.04" y1="659.4" x2="378.04" y2="795.6" stroke="#4a535a" stroke-width="0.85"/>
<line x1="425.13" y1="659.4" x2="425.13" y2="795.6" stroke="#4a535a" stroke-width="0.85"/>
<line x1="472.22" y1="659.4" x2="472.22" y2="795.6" stroke="#4a535a" stroke-width="0.85"/>
<line x1="519.31" y1="659.4" x2="519.31" y2="795.6" stroke="#4a535a" stroke-width="0.85"/>
<line x1="566.4" y1="659.4" x2="566.4" y2="795.6" stroke="#4a535a" stroke-width="0.85"/>
<line x1="613.49" y1="659.4" x2="613.49" y2="795.6" stroke="#4a535a" stroke-width="0.85"/>
<line x1="660.58" y1="659.4" x2="660.58" y2="795.6" stroke="#4a535a" stroke-width="0.85"/>
<polyline points="95.5,795.5 99.09,793.39 102.68,791.31 106.27,789.27 109.87,787.25 113.46,785.27 117.05,783.31 120.64,781.38 124.23,779.48 127.82,777.61 131.42,775.76 135.01,773.94 138.6,772.15 142.19,770.38 145.78,768.64 149.37,766.92 152.97,765.22 156.56,763.55 160.15,761.9 163.74,760.27 167.33,758.67 170.92,757.09 174.52,755.52 178.11,753.98 181.7,752.46 185.29,750.96 188.88,749.48 192.47,748.02 196.07,746.58 199.66,745.16 203.25,743.75 206.84,742.37 210.43,741 214.02,739.65 217.61,738.32 221.21,737.01 224.8,735.71 228.39,734.43 231.98,733.17 235.57,731.92 239.16,730.69 242.76,729.48 246.35,728.29 249.94,727.11 253.53,725.94 257.12,724.8 260.71,723.66 264.31,722.55 267.9,721.45 271.49,720.36 275.08,719.29 278.67,718.24 282.26,717.2 285.86,716.18 289.45,715.18 293.04,714.19 296.63,713.21 300.22,712.25 303.81,711.31 307.4,710.38" fill="none" stroke="#646464" stroke-width="0.85"/>
<polyline points="307.4,710.38 313.39,708.86 319.38,707.39 325.36,705.97 331.35,704.58 337.34,703.25 343.32,701.95 349.31,700.7 355.29,699.5 361.28,698.34 367.27,697.23 373.25,696.16 379.24,695.15 385.22,694.18 391.21,693.25 397.2,692.38 403.18,691.56 409.17,690.79 415.15,690.07 421.14,689.4 427.13,688.78 433.11,688.21 439.1,687.7 445.08,687.25 451.07,686.85 457.06,686.5 463.04,686.22 469.03,685.99 475.01,685.81 481,685.7 486.99,685.65 492.97,685.65 498.96,685.72 504.94,685.85 510.93,686.03 516.92,686.29 522.9,686.6 528.89,686.98 534.87,687.42 540.86,687.92 546.85,688.49 552.83,689.12 558.82,689.82 564.8,690.59 570.79,691.41 576.78,692.31 582.76,693.27 588.75,694.29 594.73,695.38 600.72,696.54 606.71,697.76 612.69,699.05 618.68,700.4 624.66,701.81 630.65,703.29 636.64,704.83 642.62,706.43 648.61,708.1 654.59,709.82 660.58,711.61" fill="none" stroke="#141010" stroke-width="2.45" stroke-linecap="round" stroke-linejoin="round"/>
<polyline points="95.5,729.16 99.09,729.39 102.68,729.59 106.27,729.76 109.87,729.91 113.46,730.03 117.05,730.13 120.64,730.21 124.23,730.26 127.82,730.29 131.42,730.31 135.01,730.3 138.6,730.28 142.19,730.23 145.78,730.18 149.37,730.1 152.97,730.01 156.56,729.91 160.15,729.79 163.74,729.67 167.33,729.53 170.92,729.37 174.52,729.21 178.11,729.04 181.7,728.86 185.29,728.66 188.88,728.47 192.47,728.26 196.07,728.04 199.66,727.82 203.25,727.6 206.84,727.36 210.43,727.13 214.02,726.88 217.61,726.64 221.21,726.39 224.8,726.13 228.39,725.87 231.98,725.61 235.57,725.35 239.16,725.09 242.76,724.82 246.35,724.55 249.94,724.28 253.53,724.01 257.12,723.74 260.71,723.47 264.31,723.19 267.9,722.92 271.49,722.65 275.08,722.38 278.67,722.1 282.26,721.83 285.86,721.56 289.45,721.29 293.04,721.03 296.63,720.76 300.22,720.49 303.81,720.23 307.4,719.96" fill="none" stroke="#646464" stroke-width="0.85"/>
<polyline points="307.4,719.96 313.39,719.53 319.38,719.1 325.36,718.67 331.35,718.25 337.34,717.84 343.32,717.42 349.31,717.02 355.29,716.62 361.28,716.22 367.27,715.83 373.25,715.44 379.24,715.06 385.22,714.68 391.21,714.31 397.2,713.94 403.18,713.57 409.17,713.21 415.15,712.85 421.14,712.49 427.13,712.13 433.11,711.78 439.1,711.42 445.08,711.07 451.07,710.72 457.06,710.37 463.04,710.02 469.03,709.66 475.01,709.31 481,708.96 486.99,708.61 492.97,708.26 498.96,707.91 504.94,707.55 510.93,707.2 516.92,706.85 522.9,706.49 528.89,706.14 534.87,705.78 540.86,705.43 546.85,705.08 552.83,704.73 558.82,704.38 564.8,704.04 570.79,703.7 576.78,703.36 582.76,703.03 588.75,702.71 594.73,702.4 600.72,702.09 606.71,701.8 612.69,701.52 618.68,701.25 624.66,701 630.65,700.76 636.64,700.55 642.62,700.36 648.61,700.19 654.59,700.05 660.58,699.94" fill="none" stroke="#141010" stroke-width="2.45" stroke-linecap="round" stroke-linejoin="round"/>
<polyline points="95.5,762.56 99.09,762.25 102.68,761.94 106.27,761.63 109.87,761.32 113.46,761.01 117.05,760.7 120.64,760.38 124.23,760.07 127.82,759.75 131.42,759.43 135.01,759.11 138.6,758.79 142.19,758.47 145.78,758.15 149.37,757.82 152.97,757.5 156.56,757.17 160.15,756.84 163.74,756.51 167.33,756.18 170.92,755.85 174.52,755.51 178.11,755.17 181.7,754.84 185.29,754.5 188.88,754.16 192.47,753.82 196.07,753.48 199.66,753.13 203.25,752.79 206.84,752.44 210.43,752.1 214.02,751.75 217.61,751.4 221.21,751.05 224.8,750.7 228.39,750.35 231.98,750 235.57,749.65 239.16,749.3 242.76,748.94 246.35,748.59 249.94,748.24 253.53,747.88 257.12,747.53 260.71,747.17 264.31,746.82 267.9,746.46 271.49,746.11 275.08,745.76 278.67,745.4 282.26,745.05 285.86,744.7 289.45,744.34 293.04,743.99 296.63,743.64 300.22,743.29 303.81,742.94 307.4,742.59" fill="none" stroke="#646464" stroke-width="0.85"/>
<polyline points="307.4,742.59 313.39,742.02 319.38,741.44 325.36,740.88 331.35,740.31 337.34,739.75 343.32,739.2 349.31,738.65 355.29,738.11 361.28,737.58 367.27,737.05 373.25,736.53 379.24,736.02 385.22,735.52 391.21,735.03 397.2,734.55 403.18,734.08 409.17,733.62 415.15,733.18 421.14,732.74 427.13,732.32 433.11,731.91 439.1,731.51 445.08,731.12 451.07,730.75 457.06,730.4 463.04,730.06 469.03,729.73 475.01,729.42 481,729.13 486.99,728.85 492.97,728.58 498.96,728.34 504.94,728.11 510.93,727.9 516.92,727.7 522.9,727.53 528.89,727.37 534.87,727.23 540.86,727.1 546.85,727 552.83,726.91 558.82,726.84 564.8,726.79 570.79,726.75 576.78,726.74 582.76,726.74 588.75,726.76 594.73,726.79 600.72,726.85 606.71,726.92 612.69,727.01 618.68,727.11 624.66,727.23 630.65,727.37 636.64,727.52 642.62,727.69 648.61,727.87 654.59,728.06 660.58,728.27" fill="none" stroke="#141010" stroke-width="2.45" stroke-linecap="round" stroke-linejoin="round"/>
<rect x="665.5" y="691.2" width="38.57" height="14.6" fill="#d4ecf8"/>
<text x="666.5" y="703.3" font-size="12.65" text-anchor="start" fill="#231815">P2 1/1</text>
<rect x="665.5" y="703.2" width="20.99" height="14.6" fill="#d4ecf8"/>
<text x="666.5" y="715.3" font-size="12.65" text-anchor="start" fill="#231815">Eta</text>
<rect x="665.5" y="720.4" width="38.57" height="14.6" fill="#d4ecf8"/>
<text x="666.5" y="732.5" font-size="12.65" text-anchor="start" fill="#231815">P2 2/3</text>
<line x1="85" y1="659.4" x2="718" y2="659.4" stroke="#231815" stroke-width="1.3"/>
<line x1="95.5" y1="658.75" x2="95.5" y2="805.1" stroke="#231815" stroke-width="1.4"/>
<line x1="707.67" y1="658.75" x2="707.67" y2="805.1" stroke="#231815" stroke-width="1.4"/>
<line x1="85" y1="795.6" x2="718" y2="795.6" stroke="#231815" stroke-width="1.3"/>
<line x1="85" y1="768.36" x2="95.5" y2="768.36" stroke="#231815" stroke-width="1.3"/>
<line x1="707.67" y1="768.36" x2="718" y2="768.36" stroke="#231815" stroke-width="1.3"/>
<line x1="85" y1="741.12" x2="95.5" y2="741.12" stroke="#231815" stroke-width="1.3"/>
<line x1="707.67" y1="741.12" x2="718" y2="741.12" stroke="#231815" stroke-width="1.3"/>
<line x1="85" y1="713.88" x2="95.5" y2="713.88" stroke="#231815" stroke-width="1.3"/>
<line x1="707.67" y1="713.88" x2="718" y2="713.88" stroke="#231815" stroke-width="1.3"/>
<line x1="85" y1="686.64" x2="95.5" y2="686.64" stroke="#231815" stroke-width="1.3"/>
<line x1="707.67" y1="686.64" x2="718" y2="686.64" stroke="#231815" stroke-width="1.3"/>
<line x1="91" y1="781.98" x2="95.5" y2="781.98" stroke="#6f6562" stroke-width="0.85"/>
<line x1="707.67" y1="781.98" x2="712.7" y2="781.98" stroke="#6f6562" stroke-width="0.85"/>
<line x1="91" y1="754.74" x2="95.5" y2="754.74" stroke="#6f6562" stroke-width="0.85"/>
<line x1="707.67" y1="754.74" x2="712.7" y2="754.74" stroke="#6f6562" stroke-width="0.85"/>
<line x1="91" y1="727.5" x2="95.5" y2="727.5" stroke="#6f6562" stroke-width="0.85"/>
<line x1="707.67" y1="727.5" x2="712.7" y2="727.5" stroke="#6f6562" stroke-width="0.85"/>
<line x1="91" y1="700.26" x2="95.5" y2="700.26" stroke="#6f6562" stroke-width="0.85"/>
<line x1="707.67" y1="700.26" x2="712.7" y2="700.26" stroke="#6f6562" stroke-width="0.85"/>
<line x1="91" y1="673.02" x2="95.5" y2="673.02" stroke="#6f6562" stroke-width="0.85"/>
<line x1="707.67" y1="673.02" x2="712.7" y2="673.02" stroke="#6f6562" stroke-width="0.85"/>
<line x1="142.59" y1="795.6" x2="142.59" y2="805.1" stroke="#231815" stroke-width="1.3"/>
<line x1="189.68" y1="795.6" x2="189.68" y2="805.1" stroke="#231815" stroke-width="1.3"/>
<line x1="236.77" y1="795.6" x2="236.77" y2="805.1" stroke="#231815" stroke-width="1.3"/>
<line x1="283.86" y1="795.6" x2="283.86" y2="805.1" stroke="#231815" stroke-width="1.3"/>
<line x1="330.95" y1="795.6" x2="330.95" y2="805.1" stroke="#231815" stroke-width="1.3"/>
<line x1="378.04" y1="795.6" x2="378.04" y2="805.1" stroke="#231815" stroke-width="1.3"/>
<line x1="425.13" y1="795.6" x2="425.13" y2="805.1" stroke="#231815" stroke-width="1.3"/>
<line x1="472.22" y1="795.6" x2="472.22" y2="805.1" stroke="#231815" stroke-width="1.3"/>
<line x1="519.31" y1="795.6" x2="519.31" y2="805.1" stroke="#231815" stroke-width="1.3"/>
<line x1="566.4" y1="795.6" x2="566.4" y2="805.1" stroke="#231815" stroke-width="1.3"/>
<line x1="613.49" y1="795.6" x2="613.49" y2="805.1" stroke="#231815" stroke-width="1.3"/>
<line x1="660.58" y1="795.6" x2="660.58" y2="805.1" stroke="#231815" stroke-width="1.3"/>
<line x1="119.05" y1="795.6" x2="119.05" y2="800.1" stroke="#6f6562" stroke-width="0.85"/>
<line x1="166.13" y1="795.6" x2="166.13" y2="800.1" stroke="#6f6562" stroke-width="0.85"/>
<line x1="213.22" y1="795.6" x2="213.22" y2="800.1" stroke="#6f6562" stroke-width="0.85"/>
<line x1="260.31" y1="795.6" x2="260.31" y2="800.1" stroke="#6f6562" stroke-width="0.85"/>
<line x1="307.4" y1="795.6" x2="307.4" y2="800.1" stroke="#6f6562" stroke-width="0.85"/>
<line x1="354.5" y1="795.6" x2="354.5" y2="800.1" stroke="#6f6562" stroke-width="0.85"/>
<line x1="401.58" y1="795.6" x2="401.58" y2="800.1" stroke="#6f6562" stroke-width="0.85"/>
<line x1="448.67" y1="795.6" x2="448.67" y2="800.1" stroke="#6f6562" stroke-width="0.85"/>
<line x1="495.76" y1="795.6" x2="495.76" y2="800.1" stroke="#6f6562" stroke-width="0.85"/>
<line x1="542.86" y1="795.6" x2="542.86" y2="800.1" stroke="#6f6562" stroke-width="0.85"/>
<line x1="589.94" y1="795.6" x2="589.94" y2="800.1" stroke="#6f6562" stroke-width="0.85"/>
<line x1="637.03" y1="795.6" x2="637.03" y2="800.1" stroke="#6f6562" stroke-width="0.85"/>
<line x1="684.12" y1="795.6" x2="684.12" y2="800.1" stroke="#6f6562" stroke-width="0.85"/>
<text x="81" y="800.15" font-size="12.3" text-anchor="end" fill="#231815">0</text>
<text x="721.7" y="799.9" font-size="12.3" text-anchor="start" fill="#231815">0</text>
<text x="81" y="772.91" font-size="12.3" text-anchor="end" fill="#231815">2</text>
<text x="721.7" y="772.66" font-size="12.3" text-anchor="start" fill="#231815">20</text>
<text x="81" y="745.67" font-size="12.3" text-anchor="end" fill="#231815">4</text>
<text x="721.7" y="745.42" font-size="12.3" text-anchor="start" fill="#231815">40</text>
<text x="81" y="718.43" font-size="12.3" text-anchor="end" fill="#231815">6</text>
<text x="721.7" y="718.18" font-size="12.3" text-anchor="start" fill="#231815">60</text>
<text x="81" y="691.19" font-size="12.3" text-anchor="end" fill="#231815">8</text>
<text x="721.7" y="690.94" font-size="12.3" text-anchor="start" fill="#231815">80</text>
<text x="95.5" y="821.4" font-size="12.3" text-anchor="middle" fill="#231815">0</text>
<text x="142.59" y="821.4" font-size="12.3" text-anchor="middle" fill="#231815">10</text>
<text x="189.68" y="821.4" font-size="12.3" text-anchor="middle" fill="#231815">20</text>
<text x="236.77" y="821.4" font-size="12.3" text-anchor="middle" fill="#231815">30</text>
<text x="283.86" y="821.4" font-size="12.3" text-anchor="middle" fill="#231815">40</text>
<text x="330.95" y="821.4" font-size="12.3" text-anchor="middle" fill="#231815">50</text>
<text x="378.04" y="821.4" font-size="12.3" text-anchor="middle" fill="#231815">60</text>
<text x="425.13" y="821.4" font-size="12.3" text-anchor="middle" fill="#231815">70</text>
<text x="472.22" y="821.4" font-size="12.3" text-anchor="middle" fill="#231815">80</text>
<text x="519.31" y="821.4" font-size="12.3" text-anchor="middle" fill="#231815">90</text>
<text x="566.4" y="821.4" font-size="12.3" text-anchor="middle" fill="#231815">100</text>
<text x="613.49" y="821.4" font-size="12.3" text-anchor="middle" fill="#231815">110</text>
<text x="650" y="823.1" font-size="12.5" text-anchor="start" fill="#231815">Q [m³/h]</text>
<text x="62.2" y="657.5" font-size="16.2" text-anchor="start" fill="#231815">P2</text>
<text x="55.7" y="675.5" font-size="12.4" text-anchor="start" fill="#231815">[kW]</text>
<text x="17.2" y="657.5" font-size="16.2" text-anchor="start" fill="#231815">P2</text>
<text x="13.8" y="675.5" font-size="12.4" text-anchor="start" fill="#231815">[hp]</text>
<text x="719.4" y="657.5" font-size="15.7" text-anchor="start" fill="#231815">Eta</text>
<text x="720" y="676.3" font-size="12.3" text-anchor="start" fill="#231815">[%]</text>
<line x1="50" y1="658.75" x2="50" y2="796.25" stroke="#231815" stroke-width="1.4"/>
<line x1="40" y1="795.6" x2="50" y2="795.6" stroke="#231815" stroke-width="1.3"/>
<text x="35.7" y="799.9" font-size="12.3" text-anchor="end" fill="#231815">0</text>
<line x1="45" y1="785.6" x2="50" y2="785.6" stroke="#6f6562" stroke-width="0.85"/>
<line x1="40" y1="775.6" x2="50" y2="775.6" stroke="#231815" stroke-width="1.3"/>
<text x="35.7" y="779.9" font-size="12.3" text-anchor="end" fill="#231815">2</text>
<line x1="45" y1="765.6" x2="50" y2="765.6" stroke="#6f6562" stroke-width="0.85"/>
<line x1="40" y1="755.6" x2="50" y2="755.6" stroke="#231815" stroke-width="1.3"/>
<text x="35.7" y="759.9" font-size="12.3" text-anchor="end" fill="#231815">4</text>
<line x1="45" y1="745.6" x2="50" y2="745.6" stroke="#6f6562" stroke-width="0.85"/>
<line x1="40" y1="735.6" x2="50" y2="735.6" stroke="#231815" stroke-width="1.3"/>
<text x="35.7" y="739.9" font-size="12.3" text-anchor="end" fill="#231815">6</text>
<line x1="45" y1="725.6" x2="50" y2="725.6" stroke="#6f6562" stroke-width="0.85"/>
<line x1="40" y1="715.6" x2="50" y2="715.6" stroke="#231815" stroke-width="1.3"/>
<text x="35.7" y="719.9" font-size="12.3" text-anchor="end" fill="#231815">8</text>
<line x1="45" y1="705.6" x2="50" y2="705.6" stroke="#6f6562" stroke-width="0.85"/>
<line x1="40" y1="695.6" x2="50" y2="695.6" stroke="#231815" stroke-width="1.3"/>
<text x="35.7" y="699.9" font-size="12.3" text-anchor="end" fill="#231815">10</text>
<line x1="45" y1="685.6" x2="50" y2="685.6" stroke="#6f6562" stroke-width="0.85"/>
<line x1="40" y1="675.6" x2="50" y2="675.6" stroke="#231815" stroke-width="1.3"/>
<line x1="45" y1="665.6" x2="50" y2="665.6" stroke="#6f6562" stroke-width="0.85"/>
<rect x="95.5" y="841.25" width="612.17" height="135.65" fill="#d4ecf8"/>
<line x1="95.5" y1="949.77" x2="707.67" y2="949.77" stroke="#66737d" stroke-width="1.15"/>
<line x1="95.5" y1="922.64" x2="707.67" y2="922.64" stroke="#66737d" stroke-width="1.15"/>
<line x1="95.5" y1="895.51" x2="707.67" y2="895.51" stroke="#66737d" stroke-width="1.15"/>
<line x1="95.5" y1="868.38" x2="707.67" y2="868.38" stroke="#66737d" stroke-width="1.15"/>
<line x1="142.59" y1="841.25" x2="142.59" y2="976.9" stroke="#4a535a" stroke-width="0.85"/>
<line x1="189.68" y1="841.25" x2="189.68" y2="976.9" stroke="#4a535a" stroke-width="0.85"/>
<line x1="236.77" y1="841.25" x2="236.77" y2="976.9" stroke="#4a535a" stroke-width="0.85"/>
<line x1="283.86" y1="841.25" x2="283.86" y2="976.9" stroke="#4a535a" stroke-width="0.85"/>
<line x1="330.95" y1="841.25" x2="330.95" y2="976.9" stroke="#4a535a" stroke-width="0.85"/>
<line x1="378.04" y1="841.25" x2="378.04" y2="976.9" stroke="#4a535a" stroke-width="0.85"/>
<line x1="425.13" y1="841.25" x2="425.13" y2="976.9" stroke="#4a535a" stroke-width="0.85"/>
<line x1="472.22" y1="841.25" x2="472.22" y2="976.9" stroke="#4a535a" stroke-width="0.85"/>
<line x1="519.31" y1="841.25" x2="519.31" y2="976.9" stroke="#4a535a" stroke-width="0.85"/>
<line x1="566.4" y1="841.25" x2="566.4" y2="976.9" stroke="#4a535a" stroke-width="0.85"/>
<line x1="613.49" y1="841.25" x2="613.49" y2="976.9" stroke="#4a535a" stroke-width="0.85"/>
<line x1="660.58" y1="841.25" x2="660.58" y2="976.9" stroke="#4a535a" stroke-width="0.85"/>
<polyline points="95.5,890.08 99.09,890.22 102.68,890.36 106.27,890.5 109.87,890.63 113.46,890.76 117.05,890.88 120.64,891.01 124.23,891.13 127.82,891.25 131.42,891.37 135.01,891.49 138.6,891.6 142.19,891.72 145.78,891.84 149.37,891.95 152.97,892.07 156.56,892.19 160.15,892.3 163.74,892.42 167.33,892.54 170.92,892.66 174.52,892.78 178.11,892.9 181.7,893.03 185.29,893.15 188.88,893.28 192.47,893.41 196.07,893.55 199.66,893.68 203.25,893.82 206.84,893.96 210.43,894.11 214.02,894.25 217.61,894.4 221.21,894.55 224.8,894.71 228.39,894.87 231.98,895.03 235.57,895.2 239.16,895.37 242.76,895.54 246.35,895.71 249.94,895.89 253.53,896.08 257.12,896.26 260.71,896.45 264.31,896.65 267.9,896.85 271.49,897.05 275.08,897.25 278.67,897.46 282.26,897.67 285.86,897.89 289.45,898.11 293.04,898.33 296.63,898.56 300.22,898.79 303.81,899.03 307.4,899.27" fill="none" stroke="#646464" stroke-width="0.85"/>
<polyline points="307.4,899.27 313.39,899.67 319.38,900.09 325.36,900.51 331.35,900.95 337.34,901.39 343.32,901.84 349.31,902.3 355.29,902.77 361.28,903.25 367.27,903.74 373.25,904.24 379.24,904.74 385.22,905.25 391.21,905.77 397.2,906.3 403.18,906.83 409.17,907.37 415.15,907.92 421.14,908.48 427.13,909.04 433.11,909.61 439.1,910.18 445.08,910.76 451.07,911.35 457.06,911.94 463.04,912.54 469.03,913.15 475.01,913.76 481,914.38 486.99,915.01 492.97,915.64 498.96,916.28 504.94,916.93 510.93,917.59 516.92,918.25 522.9,918.92 528.89,919.61 534.87,920.3 540.86,921 546.85,921.71 552.83,922.44 558.82,923.17 564.8,923.92 570.79,924.69 576.78,925.47 582.76,926.26 588.75,927.07 594.73,927.9 600.72,928.75 606.71,929.62 612.69,930.52 618.68,931.43 624.66,932.38 630.65,933.35 636.64,934.34 642.62,935.37 648.61,936.43 654.59,937.53 660.58,938.66" fill="none" stroke="#141010" stroke-width="2.45" stroke-linecap="round" stroke-linejoin="round"/>
<polyline points="95.5,919.4 99.09,919.22 102.68,919.05 106.27,918.88 109.87,918.73 113.46,918.58 117.05,918.44 120.64,918.31 124.23,918.18 127.82,918.06 131.42,917.95 135.01,917.84 138.6,917.74 142.19,917.65 145.78,917.56 149.37,917.48 152.97,917.4 156.56,917.33 160.15,917.26 163.74,917.2 167.33,917.14 170.92,917.08 174.52,917.03 178.11,916.99 181.7,916.95 185.29,916.91 188.88,916.88 192.47,916.85 196.07,916.82 199.66,916.8 203.25,916.78 206.84,916.77 210.43,916.76 214.02,916.75 217.61,916.75 221.21,916.75 224.8,916.75 228.39,916.76 231.98,916.77 235.57,916.79 239.16,916.81 242.76,916.83 246.35,916.86 249.94,916.89 253.53,916.92 257.12,916.96 260.71,917 264.31,917.05 267.9,917.1 271.49,917.15 275.08,917.21 278.67,917.27 282.26,917.33 285.86,917.4 289.45,917.48 293.04,917.56 296.63,917.64 300.22,917.73 303.81,917.82 307.4,917.92" fill="none" stroke="#646464" stroke-width="0.85"/>
<polyline points="307.4,917.92 313.39,918.09 319.38,918.28 325.36,918.48 331.35,918.7 337.34,918.93 343.32,919.18 349.31,919.44 355.29,919.73 361.28,920.02 367.27,920.34 373.25,920.68 379.24,921.03 385.22,921.4 391.21,921.8 397.2,922.21 403.18,922.65 409.17,923.1 415.15,923.58 421.14,924.08 427.13,924.6 433.11,925.14 439.1,925.71 445.08,926.3 451.07,926.91 457.06,927.55 463.04,928.21 469.03,928.89 475.01,929.6 481,930.33 486.99,931.08 492.97,931.86 498.96,932.66 504.94,933.49 510.93,934.33 516.92,935.2 522.9,936.1 528.89,937.01 534.87,937.95 540.86,938.91 546.85,939.88 552.83,940.88 558.82,941.89 564.8,942.93 570.79,943.98 576.78,945.04 582.76,946.12 588.75,947.22 594.73,948.32 600.72,949.44 606.71,950.57 612.69,951.7 618.68,952.84 624.66,953.98 630.65,955.13 636.64,956.28 642.62,957.42 648.61,958.56 654.59,959.7 660.58,960.83" fill="none" stroke="#141010" stroke-width="2.45" stroke-linecap="round" stroke-linejoin="round"/>
<polyline points="95.5,961.57 99.09,961.59 102.68,961.59 106.27,961.59 109.87,961.59 113.46,961.59 117.05,961.58 120.64,961.56 124.23,961.55 127.82,961.53 131.42,961.51 135.01,961.48 138.6,961.46 142.19,961.43 145.78,961.4 149.37,961.37 152.97,961.34 156.56,961.3 160.15,961.27 163.74,961.24 167.33,961.2 170.92,961.17 174.52,961.13 178.11,961.09 181.7,961.06 185.29,961.02 188.88,960.99 192.47,960.95 196.07,960.91 199.66,960.88 203.25,960.84 206.84,960.81 210.43,960.77 214.02,960.73 217.61,960.7 221.21,960.66 224.8,960.62 228.39,960.59 231.98,960.55 235.57,960.51 239.16,960.48 242.76,960.44 246.35,960.4 249.94,960.36 253.53,960.32 257.12,960.27 260.71,960.23 264.31,960.18 267.9,960.14 271.49,960.09 275.08,960.03 278.67,959.98 282.26,959.92 285.86,959.87 289.45,959.8 293.04,959.74 296.63,959.67 300.22,959.6 303.81,959.52 307.4,959.44" fill="none" stroke="#646464" stroke-width="0.85"/>
<polyline points="307.4,959.44 313.39,959.3 319.38,959.14 325.36,958.97 331.35,958.78 337.34,958.57 343.32,958.34 349.31,958.1 355.29,957.83 361.28,957.54 367.27,957.22 373.25,956.88 379.24,956.5 385.22,956.1 391.21,955.67 397.2,955.2 403.18,954.7 409.17,954.16 415.15,953.59 421.14,952.97 427.13,952.31 433.11,951.61 439.1,950.87 445.08,950.08 451.07,949.24 457.06,948.35 463.04,947.41 469.03,946.41 475.01,945.37 481,944.26 486.99,943.1 492.97,941.88 498.96,940.6 504.94,939.26 510.93,937.85 516.92,936.38 522.9,934.84 528.89,933.23 534.87,931.56 540.86,929.82 546.85,928 552.83,926.12 558.82,924.16 564.8,922.12 570.79,920.01 576.78,917.83 582.76,915.56 588.75,913.22 594.73,910.8 600.72,908.3 606.71,905.73 612.69,903.07 618.68,900.33 624.66,897.51 630.65,894.61 636.64,891.63 642.62,888.57 648.61,885.43 654.59,882.2 660.58,878.9" fill="none" stroke="#141010" stroke-width="2.45" stroke-linecap="round" stroke-linejoin="round"/>
<rect x="98.7" y="873.1" width="99.41" height="14.6" fill="#d4ecf8"/>
<text x="99.7" y="885.2" font-size="12.7" text-anchor="start" fill="#231815">QH 2900 rpm 1/1</text>
<rect x="98.7" y="900.4" width="99.41" height="14.6" fill="#d4ecf8"/>
<text x="99.7" y="912.5" font-size="12.7" text-anchor="start" fill="#231815">QH 2900 rpm 2/3</text>
<rect x="665.5" y="869.7" width="37.14" height="14.6" fill="#d4ecf8"/>
<text x="666.5" y="881.8" font-size="12.65" text-anchor="start" fill="#231815">NPSH</text>
<line x1="85" y1="841.25" x2="718" y2="841.25" stroke="#231815" stroke-width="1.3"/>
<line x1="95.5" y1="840.6" x2="95.5" y2="986.4" stroke="#231815" stroke-width="1.4"/>
<line x1="707.67" y1="840.6" x2="707.67" y2="986.4" stroke="#231815" stroke-width="1.4"/>
<line x1="85" y1="976.9" x2="718" y2="976.9" stroke="#231815" stroke-width="1.3"/>
<line x1="85" y1="949.77" x2="95.5" y2="949.77" stroke="#231815" stroke-width="1.3"/>
<line x1="707.67" y1="949.77" x2="718" y2="949.77" stroke="#231815" stroke-width="1.3"/>
<line x1="85" y1="922.64" x2="95.5" y2="922.64" stroke="#231815" stroke-width="1.3"/>
<line x1="707.67" y1="922.64" x2="718" y2="922.64" stroke="#231815" stroke-width="1.3"/>
<line x1="85" y1="895.51" x2="95.5" y2="895.51" stroke="#231815" stroke-width="1.3"/>
<line x1="707.67" y1="895.51" x2="718" y2="895.51" stroke="#231815" stroke-width="1.3"/>
<line x1="85" y1="868.38" x2="95.5" y2="868.38" stroke="#231815" stroke-width="1.3"/>
<line x1="707.67" y1="868.38" x2="718" y2="868.38" stroke="#231815" stroke-width="1.3"/>
<line x1="91" y1="963.33" x2="95.5" y2="963.33" stroke="#6f6562" stroke-width="0.85"/>
<line x1="707.67" y1="963.33" x2="712.7" y2="963.33" stroke="#6f6562" stroke-width="0.85"/>
<line x1="91" y1="936.2" x2="95.5" y2="936.2" stroke="#6f6562" stroke-width="0.85"/>
<line x1="707.67" y1="936.2" x2="712.7" y2="936.2" stroke="#6f6562" stroke-width="0.85"/>
<line x1="91" y1="909.07" x2="95.5" y2="909.07" stroke="#6f6562" stroke-width="0.85"/>
<line x1="707.67" y1="909.07" x2="712.7" y2="909.07" stroke="#6f6562" stroke-width="0.85"/>
<line x1="91" y1="881.94" x2="95.5" y2="881.94" stroke="#6f6562" stroke-width="0.85"/>
<line x1="707.67" y1="881.94" x2="712.7" y2="881.94" stroke="#6f6562" stroke-width="0.85"/>
<line x1="91" y1="854.81" x2="95.5" y2="854.81" stroke="#6f6562" stroke-width="0.85"/>
<line x1="707.67" y1="854.81" x2="712.7" y2="854.81" stroke="#6f6562" stroke-width="0.85"/>
<line x1="142.59" y1="976.9" x2="142.59" y2="986.4" stroke="#231815" stroke-width="1.3"/>
<line x1="189.68" y1="976.9" x2="189.68" y2="986.4" stroke="#231815" stroke-width="1.3"/>
<line x1="236.77" y1="976.9" x2="236.77" y2="986.4" stroke="#231815" stroke-width="1.3"/>
<line x1="283.86" y1="976.9" x2="283.86" y2="986.4" stroke="#231815" stroke-width="1.3"/>
<line x1="330.95" y1="976.9" x2="330.95" y2="986.4" stroke="#231815" stroke-width="1.3"/>
<line x1="378.04" y1="976.9" x2="378.04" y2="986.4" stroke="#231815" stroke-width="1.3"/>
<line x1="425.13" y1="976.9" x2="425.13" y2="986.4" stroke="#231815" stroke-width="1.3"/>
<line x1="472.22" y1="976.9" x2="472.22" y2="986.4" stroke="#231815" stroke-width="1.3"/>
<line x1="519.31" y1="976.9" x2="519.31" y2="986.4" stroke="#231815" stroke-width="1.3"/>
<line x1="566.4" y1="976.9" x2="566.4" y2="986.4" stroke="#231815" stroke-width="1.3"/>
<line x1="613.49" y1="976.9" x2="613.49" y2="986.4" stroke="#231815" stroke-width="1.3"/>
<line x1="660.58" y1="976.9" x2="660.58" y2="986.4" stroke="#231815" stroke-width="1.3"/>
<line x1="119.05" y1="976.9" x2="119.05" y2="981.4" stroke="#6f6562" stroke-width="0.85"/>
<line x1="166.13" y1="976.9" x2="166.13" y2="981.4" stroke="#6f6562" stroke-width="0.85"/>
<line x1="213.22" y1="976.9" x2="213.22" y2="981.4" stroke="#6f6562" stroke-width="0.85"/>
<line x1="260.31" y1="976.9" x2="260.31" y2="981.4" stroke="#6f6562" stroke-width="0.85"/>
<line x1="307.4" y1="976.9" x2="307.4" y2="981.4" stroke="#6f6562" stroke-width="0.85"/>
<line x1="354.5" y1="976.9" x2="354.5" y2="981.4" stroke="#6f6562" stroke-width="0.85"/>
<line x1="401.58" y1="976.9" x2="401.58" y2="981.4" stroke="#6f6562" stroke-width="0.85"/>
<line x1="448.67" y1="976.9" x2="448.67" y2="981.4" stroke="#6f6562" stroke-width="0.85"/>
<line x1="495.76" y1="976.9" x2="495.76" y2="981.4" stroke="#6f6562" stroke-width="0.85"/>
<line x1="542.86" y1="976.9" x2="542.86" y2="981.4" stroke="#6f6562" stroke-width="0.85"/>
<line x1="589.94" y1="976.9" x2="589.94" y2="981.4" stroke="#6f6562" stroke-width="0.85"/>
<line x1="637.03" y1="976.9" x2="637.03" y2="981.4" stroke="#6f6562" stroke-width="0.85"/>
<line x1="684.12" y1="976.9" x2="684.12" y2="981.4" stroke="#6f6562" stroke-width="0.85"/>
<text x="81" y="981.45" font-size="12.3" text-anchor="end" fill="#231815">0</text>
<text x="721.1" y="981.2" font-size="12.3" text-anchor="start" fill="#231815">0</text>
<text x="81" y="954.32" font-size="12.3" text-anchor="end" fill="#231815">10</text>
<text x="721.1" y="954.07" font-size="12.3" text-anchor="start" fill="#231815">2</text>
<text x="81" y="927.19" font-size="12.3" text-anchor="end" fill="#231815">20</text>
<text x="721.1" y="926.94" font-size="12.3" text-anchor="start" fill="#231815">4</text>
<text x="81" y="900.06" font-size="12.3" text-anchor="end" fill="#231815">30</text>
<text x="721.1" y="899.81" font-size="12.3" text-anchor="start" fill="#231815">6</text>
<text x="81" y="872.93" font-size="12.3" text-anchor="end" fill="#231815">40</text>
<text x="721.1" y="872.68" font-size="12.3" text-anchor="start" fill="#231815">8</text>
<text x="95.5" y="1002.7" font-size="12.3" text-anchor="middle" fill="#231815">0</text>
<text x="142.59" y="1002.7" font-size="12.3" text-anchor="middle" fill="#231815">10</text>
<text x="189.68" y="1002.7" font-size="12.3" text-anchor="middle" fill="#231815">20</text>
<text x="236.77" y="1002.7" font-size="12.3" text-anchor="middle" fill="#231815">30</text>
<text x="283.86" y="1002.7" font-size="12.3" text-anchor="middle" fill="#231815">40</text>
<text x="330.95" y="1002.7" font-size="12.3" text-anchor="middle" fill="#231815">50</text>
<text x="378.04" y="1002.7" font-size="12.3" text-anchor="middle" fill="#231815">60</text>
<text x="425.13" y="1002.7" font-size="12.3" text-anchor="middle" fill="#231815">70</text>
<text x="472.22" y="1002.7" font-size="12.3" text-anchor="middle" fill="#231815">80</text>
<text x="519.31" y="1002.7" font-size="12.3" text-anchor="middle" fill="#231815">90</text>
<text x="566.4" y="1002.7" font-size="12.3" text-anchor="middle" fill="#231815">100</text>
<text x="613.49" y="1002.7" font-size="12.3" text-anchor="middle" fill="#231815">110</text>
<text x="650" y="1004.4" font-size="12.5" text-anchor="start" fill="#231815">Q [m³/h]</text>
<text x="66.2" y="839.3" font-size="16.2" text-anchor="start" fill="#231815">H</text>
<text x="60.6" y="856.9" font-size="12.6" text-anchor="start" fill="#231815">[m]</text>
<text x="26.3" y="839.3" font-size="16.2" text-anchor="middle" fill="#231815">p</text>
<text x="8.3" y="856.9" font-size="12.6" text-anchor="start" fill="#231815">[kPa]</text>
<text x="715.4" y="839.5" font-size="16" text-anchor="start" fill="#231815">NPSH</text>
<text x="726.5" y="857.3" font-size="12.4" text-anchor="start" fill="#231815">[m]</text>
<line x1="50" y1="840.6" x2="50" y2="977.55" stroke="#231815" stroke-width="1.4"/>
<line x1="40" y1="976.9" x2="50" y2="976.9" stroke="#231815" stroke-width="1.3"/>
<text x="36" y="981.2" font-size="12.3" text-anchor="end" fill="#231815">0</text>
<line x1="45" y1="963.05" x2="50" y2="963.05" stroke="#6f6562" stroke-width="0.85"/>
<line x1="40" y1="949.2" x2="50" y2="949.2" stroke="#231815" stroke-width="1.3"/>
<text x="36" y="953.5" font-size="12.3" text-anchor="end" fill="#231815">100</text>
<line x1="45" y1="935.35" x2="50" y2="935.35" stroke="#6f6562" stroke-width="0.85"/>
<line x1="40" y1="921.5" x2="50" y2="921.5" stroke="#231815" stroke-width="1.3"/>
<text x="36" y="925.8" font-size="12.3" text-anchor="end" fill="#231815">200</text>
<line x1="45" y1="907.65" x2="50" y2="907.65" stroke="#6f6562" stroke-width="0.85"/>
<line x1="40" y1="893.8" x2="50" y2="893.8" stroke="#231815" stroke-width="1.3"/>
<text x="36" y="898.1" font-size="12.3" text-anchor="end" fill="#231815">300</text>
<line x1="45" y1="879.95" x2="50" y2="879.95" stroke="#6f6562" stroke-width="0.85"/>
<line x1="40" y1="866.1" x2="50" y2="866.1" stroke="#231815" stroke-width="1.3"/>
<line x1="45" y1="852.25" x2="50" y2="852.25" stroke="#6f6562" stroke-width="0.85"/>
</svg>
</body></html>
